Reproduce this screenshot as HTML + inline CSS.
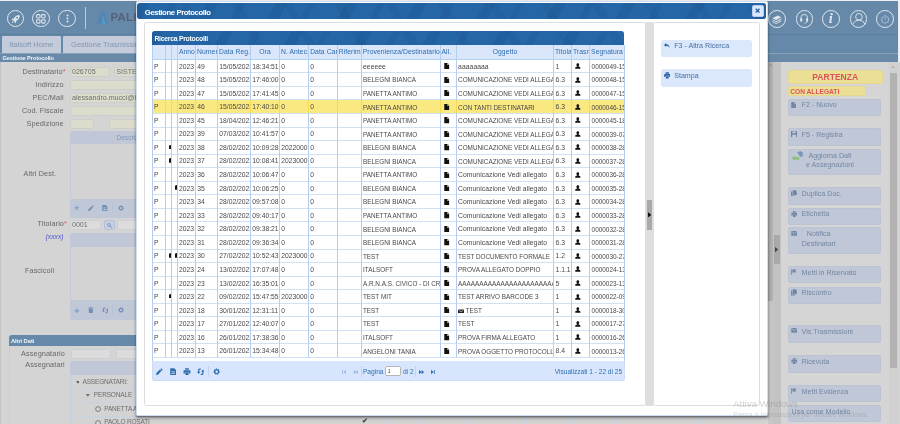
<!DOCTYPE html>
<html><head><meta charset="utf-8"><title>Gestione Protocollo</title>
<style>
html,body{margin:0;padding:0;background:#eceef0;overflow:hidden;}
body{width:900px;height:424px;position:relative;font-family:"Liberation Sans",sans-serif;}
#s{position:absolute;left:0;top:0;width:1920px;height:905px;zoom:0.46875;will-change:transform;font-family:"Liberation Sans",sans-serif;}
#s div{position:absolute;}
#s span{position:static;}
.circ{border:2px solid #dfe7ef;border-radius:50%;box-sizing:border-box;display:flex;align-items:center;justify-content:center;}
.circ svg{flex:none;}
</style></head><body>
<div id="s">
<div style="left:0.00px;top:2.56px;width:1915.52px;height:74.24px;background:#6789a9;"></div>
<div style="left:0.00px;top:72.96px;width:1915.52px;height:1.71px;background:#5d7f9f;"></div>
<div style="left:0.00px;top:74.67px;width:1915.52px;height:38.40px;background:#6789a9;"></div>
<div style="left:0.00px;top:113.07px;width:1915.52px;height:19.41px;background:#6989a8;"></div>
<div style="left:0.00px;top:113.07px;width:1915.52px;height:1.07px;background:#86a0ba;"></div>
<div class="circ" style="left:14.29px;top:20.69px;width:37.97px;height:37.97px;"><svg width="25" height="25" viewBox="0 0 20 20" ><path d="M15.500 3.500c-4 0-7 2.500-9 6l-2.500.5-1.500 2 2.800.3 2.500 2.500.3 2.800 2-1.500.5-2.500c3.500-2 6-5 6-9z" fill="#dde5ee"/><circle cx="12" cy="8" r="1.500" fill="#6789a9"/><path d="M4.500 13.500l2 2-3.500 1.500z" fill="#dde5ee"/></svg></div>
<div class="circ" style="left:68.48px;top:20.69px;width:37.97px;height:37.97px;"><svg width="25" height="25" viewBox="0 0 22 22" ><g fill="none" stroke="#dde5ee" stroke-width="2"><rect x="3" y="3" width="6.500" height="6.500" rx="1.800"/><rect x="12.500" y="3" width="6.500" height="6.500" rx="1.800"/><rect x="3" y="12.500" width="6.500" height="6.500" rx="1.800"/><rect x="12.500" y="12.500" width="6.500" height="6.500" rx="1.800"/></g></svg></div>
<div class="circ" style="left:124.59px;top:20.69px;width:37.97px;height:37.97px;"><svg width="6.5" height="19" viewBox="0 0 6 18" ><g fill="#dde5ee"><circle cx="3" cy="3" r="2.100"/><circle cx="3" cy="9" r="2.100"/><circle cx="3" cy="15" r="2.100"/></g></svg></div>
<div style="left:181.76px;top:14.93px;width:1.28px;height:46.93px;background:#b9cbdc;"></div>
<div style="left:207.57px;top:23.89px;"><svg width="24" height="28" viewBox="0 0 24 28" ><path d="M8.500 1h7l8 26h-6.500l-5-17.500-5 17.500h-6.500z" fill="#5384b8"/><path d="M12 6.500l6 20.500h-6.200z" fill="#3fa2d4"/></svg></div>
<div style="left:235.52px;top:23.25px;font:bold 24px 'Liberation Sans',sans-serif;color:#52627a;letter-spacing:.9px;white-space:nowrap;">PALITALSOFT</div>
<div class="circ" style="left:1638.83px;top:20.91px;width:37.97px;height:37.97px;"><svg width="24" height="22" viewBox="0 0 24 22" ><g fill="#dde5ee"><path d="M3 9l11-6 8 4-11 6z"/><path d="M3 11l8 4.500 11-6v2l-11 6-8-4.500z"/><path d="M3 15l8 4.500 11-6v2l-11 6-8-4.500z"/></g></svg></div>
<div class="circ" style="left:1697.07px;top:20.91px;width:37.97px;height:37.97px;"><svg width="22" height="24" viewBox="0 0 22 24" ><path d="M4 14v-4a7 7 0 0 1 14 0v4" fill="none" stroke="#dde5ee" stroke-width="2"/><rect x="2.500" y="11" width="4.500" height="7.500" rx="2" fill="#dde5ee"/><rect x="15" y="11" width="4.500" height="7.500" rx="2" fill="#dde5ee"/><path d="M17.500 18c0 3-3 3.500-6 3.500" fill="none" stroke="#dde5ee" stroke-width="1.600"/></svg></div>
<div class="circ" style="left:1754.24px;top:20.91px;width:37.97px;height:37.97px;"><span style="font:italic bold 31px 'Liberation Serif',serif;color:#dde5ee;line-height:1;position:relative;top:-1px;left:-1px;">i</span></div>
<div class="circ" style="left:1812.27px;top:20.91px;width:37.97px;height:37.97px;"><svg width="38" height="38" viewBox="0 0 38 38" ><circle cx="19" cy="14.500" r="7" fill="none" stroke="#dde5ee" stroke-width="2"/><path d="M6 31c2-6.500 7.500-9 13-9s11 2.500 13 9" fill="none" stroke="#dde5ee" stroke-width="2"/></svg></div>
<div class="circ" style="left:1869.23px;top:20.91px;width:37.97px;height:37.97px;"><svg width="22" height="22" viewBox="0 0 22 22" ><path d="M7 5.500a7.500 7.500 0 1 0 8 0" fill="none" stroke="#9fb8d0" stroke-width="2.200" stroke-linecap="round"/><path d="M11 2.500v8" stroke="#9fb8d0" stroke-width="2.200" stroke-linecap="round"/></svg></div>
<div style="left:3.20px;top:75.95px;width:126.93px;height:37.55px;background:#c4cbda;border-radius:3px 3px 0 0;color:#8297b3;font-size:16px;line-height:37.55px;text-align:center;">Italsoft Home</div>
<div style="left:133.97px;top:75.95px;width:250.03px;height:37.55px;background:#c4cbda;border-radius:3px 3px 0 0;color:#8297b3;font-size:16px;line-height:37.55px;padding-left:17.71px;box-sizing:border-box;">Gestione Trasmissioni</div>
<div style="left:5.12px;top:115.20px;font:bold 12px 'Liberation Sans',sans-serif;color:#f1f5f9;white-space:nowrap;line-height:18.77px;letter-spacing:-.2px;">Gestione Protocollo</div>
<div style="left:0.00px;top:132.48px;width:1920.00px;height:772.05px;background:#d4d4d4;"></div>
<div style="left:0.00px;top:132.48px;width:2.56px;height:772.05px;background:#c4c4c4;"></div>
<div style="left:-0.85px;top:141.87px;width:140.80px;text-align:right;color:#676767;font-size:15.5px;letter-spacing:.25px;line-height:21.33px;white-space:nowrap;">Destinatario<span style="color:#e0525a">*</span></div>
<div style="left:-5.12px;top:169.60px;width:140.80px;text-align:right;color:#676767;font-size:15.5px;letter-spacing:.25px;line-height:21.33px;white-space:nowrap;">Indirizzo</div>
<div style="left:-5.12px;top:197.55px;width:140.80px;text-align:right;color:#676767;font-size:15.5px;letter-spacing:.25px;line-height:21.33px;white-space:nowrap;">PEC/Mail</div>
<div style="left:-5.12px;top:225.28px;width:140.80px;text-align:right;color:#676767;font-size:15.5px;letter-spacing:.25px;line-height:21.33px;white-space:nowrap;">Cod. Fiscale</div>
<div style="left:-5.12px;top:253.01px;width:140.80px;text-align:right;color:#676767;font-size:15.5px;letter-spacing:.25px;line-height:21.33px;white-space:nowrap;">Spedizione</div>
<div style="left:-20.91px;top:359.47px;width:140.80px;text-align:right;color:#676767;font-size:15.5px;letter-spacing:.25px;line-height:21.33px;white-space:nowrap;">Altri Dest.</div>
<div style="left:2.13px;top:467.41px;width:140.80px;text-align:right;color:#676767;font-size:15.5px;letter-spacing:.25px;line-height:21.33px;white-space:nowrap;">Titolario<span style="color:#e0525a">*</span></div>
<div style="left:-5.12px;top:494.08px;width:140.80px;text-align:right;color:#676767;font-size:15.5px;letter-spacing:.25px;line-height:21.33px;white-space:nowrap;color:#5556c8;font-style:italic;font-size:14.5px;letter-spacing:0;">(xxxx)</div>
<div style="left:-25.17px;top:566.83px;width:140.80px;text-align:right;color:#676767;font-size:15.5px;letter-spacing:.25px;line-height:21.33px;white-space:nowrap;">Fascicoli</div>
<div style="left:-2.56px;top:743.47px;width:140.80px;text-align:right;color:#676767;font-size:15.5px;letter-spacing:.25px;line-height:21.33px;white-space:nowrap;">Assegnatario</div>
<div style="left:-2.56px;top:767.57px;width:140.80px;text-align:right;color:#676767;font-size:15.5px;letter-spacing:.25px;line-height:21.33px;white-space:nowrap;">Assegnatari</div>
<div style="left:149.33px;top:142.93px;width:84.48px;height:20.48px;background:#dcdccd;border:1px solid #cccfc9;border-radius:5px;box-sizing:border-box;color:#6e6e6e;font-size:15.2px;line-height:20.05px;padding-left:2px;white-space:nowrap;overflow:hidden;">026705</div>
<div style="left:243.84px;top:142.93px;width:182.83px;height:20.48px;background:#dcdccd;border:1px solid #cccfc9;border-radius:5px;box-sizing:border-box;color:#6e6e6e;font-size:15.2px;line-height:20.05px;padding-left:2px;white-space:nowrap;overflow:hidden;">SISTEMA</div>
<div style="left:149.33px;top:170.88px;width:490.67px;height:20.27px;background:#dcdccd;border:1px solid #cccfc9;border-radius:5px;box-sizing:border-box;color:#6e6e6e;font-size:15.2px;line-height:20.05px;padding-left:2px;white-space:nowrap;overflow:hidden;"></div>
<div style="left:149.33px;top:198.61px;width:490.67px;height:20.27px;background:#dcdccd;border:1px solid #cccfc9;border-radius:5px;box-sizing:border-box;color:#6e6e6e;font-size:15.2px;line-height:20.05px;padding-left:2px;white-space:nowrap;overflow:hidden;">alessandro.mucci@italsoft.eu</div>
<div style="left:149.33px;top:226.35px;width:490.67px;height:20.27px;background:#dcdccd;border:1px solid #cccfc9;border-radius:5px;box-sizing:border-box;color:#6e6e6e;font-size:15.2px;line-height:20.05px;padding-left:2px;white-space:nowrap;overflow:hidden;"></div>
<div style="left:149.33px;top:254.08px;width:51.84px;height:20.27px;background:#dcdccd;border:1px solid #cccfc9;border-radius:5px;box-sizing:border-box;color:#6e6e6e;font-size:15.2px;line-height:20.05px;padding-left:2px;white-space:nowrap;overflow:hidden;"></div>
<div style="left:232.32px;top:254.08px;width:407.68px;height:20.27px;background:#dcdccd;border:1px solid #cccfc9;border-radius:5px;box-sizing:border-box;color:#6e6e6e;font-size:15.2px;line-height:20.05px;padding-left:2px;white-space:nowrap;overflow:hidden;"></div>
<div style="left:149.33px;top:280.11px;width:490.67px;height:27.52px;background:#c0c7d6;border-radius:5px 0 0 0;color:#8399b8;font-size:14px;line-height:31.57px;padding-left:99.20px;box-sizing:border-box;">Descrizione</div>
<div style="left:149.33px;top:307.63px;width:490.67px;height:115.84px;background:#d2d3d2;border-left:1px solid #c3cbd8;box-sizing:border-box;"></div>
<div style="left:149.33px;top:423.47px;width:490.67px;height:42.03px;background:#c0c7d6;border-radius:0 0 0 5px;"></div>
<div style="left:158.91px;top:438.37px;line-height:0;"><svg width="12" height="12" viewBox="0 0 14 14" ><path d="M6 1h2v5h5v2h-5v5h-2v-5h-5v-2h5z" fill="#6f8db5"/></svg></div>
<div style="left:187.63px;top:437.87px;line-height:0;"><svg width="13" height="13" viewBox="0 0 14 14" ><path d="M10.500 0.500l3 3-1.800 1.800-3-3z M7.800 3.200l3 3-7 7-3.600.6.600-3.600z" fill="#6f8db5"/></svg></div>
<div style="left:217.79px;top:437.87px;line-height:0;"><svg width="12" height="13" viewBox="0 0 13 14" ><path d="M0.500 0h8l4 4v10h-12z" fill="#6f8db5"/><path d="M3 6h7v1.500h-7z M3 9h7v3h-7z" fill="#fff" opacity=".55"/></svg></div>
<div style="left:239.79px;top:434.13px;width:1.07px;height:20.27px;background:#b7c3d6;"></div>
<div style="left:251.42px;top:437.87px;line-height:0;"><svg width="13" height="13" viewBox="0 0 14 14" ><circle cx="7" cy="7" r="4.300" fill="none" stroke="#6f8db5" stroke-width="3.200" stroke-dasharray="2.250 1.130"/><circle cx="7" cy="7" r="3.700" fill="none" stroke="#6f8db5" stroke-width="2.200"/></svg></div>
<div style="left:149.33px;top:469.55px;width:66.77px;height:21.12px;background:#dcdcdc;border:1px solid #cbcfd5;border-radius:5px;box-sizing:border-box;color:#6e6e6e;font-size:15.2px;line-height:20.05px;padding-left:2px;white-space:nowrap;overflow:hidden;">0001</div>
<div style="left:222.72px;top:469.55px;width:22.19px;height:21.12px;background:#c6d0e2;border:1px solid #b4c0d4;border-radius:4px;box-sizing:border-box;"></div>
<div style="left:228.31px;top:474.71px;line-height:0;"><svg width="11" height="11" viewBox="0 0 13 13" ><circle cx="5" cy="5" r="3.700" fill="none" stroke="#6f8db5" stroke-width="1.800"/><path d="M7.800 7.800l4.200 4.200" stroke="#6f8db5" stroke-width="2.200" stroke-linecap="round"/></svg></div>
<div style="left:249.81px;top:469.55px;width:390.19px;height:21.12px;background:#dcdcdc;border:1px solid #cbcfd5;border-radius:5px;box-sizing:border-box;color:#6e6e6e;font-size:15.2px;line-height:20.05px;padding-left:2px;white-space:nowrap;overflow:hidden;"></div>
<div style="left:149.33px;top:497.92px;width:490.67px;height:28.80px;background:#c0c7d6;border-radius:5px 0 0 0;"></div>
<div style="left:192.21px;top:497.92px;width:1.07px;height:28.80px;background:#b9c4d8;"></div>
<div style="left:149.33px;top:526.72px;width:490.67px;height:113.07px;background:#d2d3d2;border-left:1px solid #c3cbd8;box-sizing:border-box;"></div>
<div style="left:149.33px;top:639.79px;width:490.67px;height:43.31px;background:#c0c7d6;border-radius:0 0 0 5px;"></div>
<div style="left:158.91px;top:656.40px;line-height:0;"><svg width="12" height="12" viewBox="0 0 14 14" ><path d="M6 1h2v5h5v2h-5v5h-2v-5h-5v-2h5z" fill="#6f8db5"/></svg></div>
<div style="left:188.13px;top:655.90px;line-height:0;"><svg width="12" height="13" viewBox="0 0 13 14" ><path d="M4.500 0h4v1.500h4v1.800h-12v-1.800h4z M1.500 4.300h10l-.8 9.700h-8.400z" fill="#6f8db5"/></svg></div>
<div style="left:216.54px;top:655.15px;line-height:0;"><svg width="14.5" height="14.5" viewBox="0 0 16 16" ><path d="M8 2.500h-2.500a2 2 0 0 0-2 2v4.500" fill="none" stroke="#6f8db5" stroke-width="2.600"/><path d="M0 8.200h7l-3.500 4.800z" fill="#6f8db5"/><path d="M8 13.500h2.500a2 2 0 0 0 2-2v-4.500" fill="none" stroke="#6f8db5" stroke-width="2.600"/><path d="M16 7.800h-7l3.500-4.800z" fill="#6f8db5"/></svg></div>
<div style="left:239.79px;top:651.73px;width:1.07px;height:20.27px;background:#b7c3d6;"></div>
<div style="left:251.42px;top:655.90px;line-height:0;"><svg width="13" height="13" viewBox="0 0 14 14" ><circle cx="7" cy="7" r="4.300" fill="none" stroke="#6f8db5" stroke-width="3.200" stroke-dasharray="2.250 1.130"/><circle cx="7" cy="7" r="3.700" fill="none" stroke="#6f8db5" stroke-width="2.200"/></svg></div>
<div style="left:19.20px;top:714.67px;width:1617.07px;height:23.25px;background:#6789a9;border-radius:6px 0 0 0;color:#f1f5f9;font:bold 12.5px 'Liberation Sans',sans-serif;line-height:26.45px;padding-left:4px;box-sizing:border-box;letter-spacing:-.2px;">Altri Dati</div>
<div style="left:19.20px;top:737.92px;width:1.07px;height:166.61px;background:#c3cfe0;"></div>
<div style="left:152.32px;top:743.89px;width:84.91px;height:21.12px;background:#dcdcdc;border:1px solid #cbcfd5;border-radius:5px;box-sizing:border-box;color:#6e6e6e;font-size:15.2px;line-height:20.05px;padding-left:2px;white-space:nowrap;overflow:hidden;"></div>
<div style="left:247.47px;top:743.89px;width:392.53px;height:21.12px;background:#dcdcdc;border:1px solid #cbcfd5;border-radius:5px;box-sizing:border-box;color:#6e6e6e;font-size:15.2px;line-height:20.05px;padding-left:2px;white-space:nowrap;overflow:hidden;"></div>
<div style="left:149.76px;top:770.13px;width:1486.51px;height:30.08px;background:#c0c7d6;border-radius:5px 0 0 0;"></div>
<div style="left:149.76px;top:800.21px;width:1486.51px;height:104.32px;background:#d2d3d2;"></div>
<div style="left:149.76px;top:800.21px;width:1.07px;height:104.32px;background:#c3cfe0;"></div>
<div style="left:149.76px;top:828.91px;width:1486.51px;height:1.07px;background:#c8d2e2;"></div>
<div style="left:149.76px;top:857.49px;width:1486.51px;height:1.07px;background:#c8d2e2;"></div>
<div style="left:149.76px;top:886.72px;width:1486.51px;height:1.07px;background:#c8d2e2;"></div>
<div style="left:161.07px;top:812.16px;line-height:0;"><svg width="8" height="6" viewBox="0 0 8 6" ><path d="M0 0h8l-4 6z" fill="#666"/></svg></div>
<div style="left:176.00px;top:803.63px;color:#6e6e6e;font-size:13.9px;letter-spacing:-.35px;white-space:nowrap;line-height:21.33px;">ASSEGNATARI:</div>
<div style="left:184.11px;top:839.89px;line-height:0;"><svg width="8" height="6" viewBox="0 0 8 6" ><path d="M0 0h8l-4 6z" fill="#666"/></svg></div>
<div style="left:200.11px;top:831.36px;color:#6e6e6e;font-size:13.9px;letter-spacing:-.35px;white-space:nowrap;line-height:21.33px;">PERSONALE</div>
<div style="left:203.73px;top:866.56px;line-height:0;"><svg width="13" height="13" viewBox="0 0 13 13" ><circle cx="6.500" cy="6.500" r="5.200" fill="none" stroke="#666" stroke-width="1.700"/></svg></div>
<div style="left:222.29px;top:861.44px;color:#6e6e6e;font-size:13.9px;letter-spacing:-.35px;white-space:nowrap;line-height:21.33px;">PANETTA ANTIMO</div>
<div style="left:203.73px;top:895.15px;line-height:0;"><svg width="13" height="13" viewBox="0 0 13 13" ><circle cx="6.500" cy="6.500" r="5.200" fill="none" stroke="#666" stroke-width="1.700"/></svg></div>
<div style="left:222.29px;top:889.81px;color:#6e6e6e;font-size:13.9px;letter-spacing:-.35px;white-space:nowrap;line-height:21.33px;">PAOLO ROSATI</div>
<div style="left:762.35px;top:800.21px;width:1.07px;height:104.32px;background:#c8d2e2;"></div>
<div style="left:828.69px;top:800.21px;width:1.07px;height:104.32px;background:#c8d2e2;"></div>
<div style="left:895.25px;top:800.21px;width:1.07px;height:104.32px;background:#c8d2e2;"></div>
<div style="left:994.45px;top:800.21px;width:1.07px;height:104.32px;background:#c8d2e2;"></div>
<div style="left:1121.60px;top:800.21px;width:1.07px;height:104.32px;background:#c8d2e2;"></div>
<div style="left:1220.16px;top:800.21px;width:1.07px;height:104.32px;background:#c8d2e2;"></div>
<div style="left:1315.09px;top:800.21px;width:1.07px;height:104.32px;background:#c8d2e2;"></div>
<div style="left:1397.87px;top:800.21px;width:1.07px;height:104.32px;background:#c8d2e2;"></div>
<div style="left:1492.80px;top:800.21px;width:1.07px;height:104.32px;background:#c8d2e2;"></div>
<div style="left:1588.80px;top:800.21px;width:1.07px;height:104.32px;background:#c8d2e2;"></div>
<div style="left:771.84px;top:890.88px;font-size:14px;font-weight:bold;color:#444;line-height:1;">&#10004;</div>
<div style="left:1638.40px;top:132.48px;width:9.81px;height:509.65px;background:linear-gradient(90deg,#a4a4a4,#b4b4b4);"></div>
<div style="left:1638.40px;top:642.13px;width:9.81px;height:262.40px;background:#c6c6c6;"></div>
<div style="left:1648.21px;top:132.48px;width:17.07px;height:772.05px;background:#c3c3c3;"></div>
<div style="left:1651.20px;top:501.76px;width:13.44px;height:62.51px;background:#a9a9a9;"></div>
<div style="left:1653.97px;top:526.29px;line-height:0;"><svg width="7" height="11" viewBox="0 0 5 8" ><path d="M0 0l5 4-5 4z" fill="#444"/></svg></div>
<div style="left:1665.28px;top:132.48px;width:232.53px;height:772.05px;background:#d5d5d5;"></div>
<div style="left:1897.17px;top:132.48px;width:17.71px;height:772.05px;background:#d0d0d0;"></div>
<div style="left:1898.45px;top:154.88px;width:15.36px;height:629.33px;background:#b2b2b2;"></div>
<div style="left:1901.65px;top:139.95px;line-height:0;"><svg width="9" height="6" viewBox="0 0 8 5" ><path d="M0 5l4-5 4 5z" fill="#a8a8a8"/></svg></div>
<div style="left:1640.53px;top:137.17px;line-height:0;"><svg width="6" height="4" viewBox="0 0 8 5" ><path d="M0 5l4-5 4 5z" fill="#8c8c8c"/></svg></div>
<div style="left:1680.64px;top:149.55px;width:202.24px;height:28.80px;background:#ebdf96;border:1px solid #e4d890;border-radius:5px;box-sizing:border-box;color:#d9555a;font:bold 18.2px 'Liberation Sans',sans-serif;line-height:28.16px;text-align:center;">PARTENZA</div>
<div style="left:1680.64px;top:183.89px;width:166.40px;height:20.91px;background:#ebdf96;border:1px solid #e4d890;border-radius:4px;box-sizing:border-box;color:#d9555a;font:bold 14.2px 'Liberation Sans',sans-serif;line-height:20.05px;padding-left:3px;">CON ALLEGATI</div>
<div style="left:1680.64px;top:211.41px;width:199.68px;height:35.20px;background:#c0c7d6;border:1px solid #bcc4d4;border-radius:4px;box-sizing:border-box;"></div>
<div style="left:1687.25px;top:217.17px;line-height:0;"><svg width="11" height="13" viewBox="0 0 11 13" ><path d="M0.5 0h6v4h4v9h-10z M7.3 0l3.2 3.2h-3.2z" fill="#7387a3"/></svg></div>
<div style="left:1710.08px;top:216.53px;color:#7387a3;font-size:15.2px;line-height:20.48px;white-space:nowrap;">F2 - Nuovo</div>
<div style="left:1680.64px;top:273.92px;width:199.68px;height:37.55px;background:#c0c7d6;border:1px solid #bcc4d4;border-radius:4px;box-sizing:border-box;"></div>
<div style="left:1687.25px;top:279.68px;line-height:0;"><svg width="13.5" height="13.5" viewBox="0 0 14 14" ><path d="M0 0h11.500l2.500 2.500v11.500h-14z" fill="#7387a3"/><path d="M3 1h7v4h-7z M3 8.500h8v4.500h-8z" fill="#fff" opacity=".6"/></svg></div>
<div style="left:1710.08px;top:279.04px;color:#7387a3;font-size:15.2px;line-height:20.48px;white-space:nowrap;">F5 - Registra</div>
<div style="left:1680.64px;top:317.87px;width:199.68px;height:56.32px;background:#c0c7d6;border:1px solid #bcc4d4;border-radius:4px;box-sizing:border-box;"></div>
<div style="left:1686.61px;top:321.28px;line-height:0;"><svg width="29" height="27" viewBox="0 0 26 24" ><path d="M12 3l6-3 6 4-2 1 1 6-4-1-1 2z" fill="#7d95b8"/><path d="M1 13l6-4v2.500h9v5h-9v2.500z" fill="#8fbf83"/></svg></div>
<div style="left:1706.67px;top:323.20px;color:#7387a3;font-size:15.2px;line-height:20.48px;white-space:nowrap;text-align:center;width:128.00px;">Aggiorna Dati<br>e Assegnazioni</div>
<div style="left:1680.64px;top:399.15px;width:199.68px;height:37.76px;background:#c0c7d6;border:1px solid #bcc4d4;border-radius:4px;box-sizing:border-box;"></div>
<div style="left:1687.25px;top:404.91px;line-height:0;"><svg width="12.5" height="14" viewBox="0 0 13 14" ><path d="M4 0h6l3 3v8h-9z M0 3h3v9h7v2h-10z" fill="#7387a3"/></svg></div>
<div style="left:1710.08px;top:404.27px;color:#7387a3;font-size:15.2px;line-height:20.48px;white-space:nowrap;">Duplica Doc.</div>
<div style="left:1680.64px;top:443.52px;width:199.68px;height:36.05px;background:#c0c7d6;border:1px solid #bcc4d4;border-radius:4px;box-sizing:border-box;"></div>
<div style="left:1687.25px;top:449.28px;line-height:0;"><svg width="14" height="13" viewBox="0 0 14 14" ><path d="M3.500 0.300h7v3.200h-7z M0.400 4.300h13.200v6.400h-2.600v-2.700h-8v2.700h-2.600z M3.900 8.900h6.200v4.800h-6.200z" fill="#7387a3"/></svg></div>
<div style="left:1710.08px;top:448.64px;color:#7387a3;font-size:15.2px;line-height:20.48px;white-space:nowrap;">Etichetta</div>
<div style="left:1680.64px;top:485.33px;width:199.68px;height:56.32px;background:#c0c7d6;border:1px solid #bcc4d4;border-radius:4px;box-sizing:border-box;"></div>
<div style="left:1687.25px;top:492.59px;line-height:0;"><svg width="14" height="10" viewBox="0 0 14 11" ><path d="M0 0h14v11h-14z" fill="#7387a3"/><path d="M1 1.200l6 5 6-5" fill="none" stroke="#fff" stroke-opacity=".7" stroke-width="1.300"/></svg></div>
<div style="left:1710.29px;top:490.67px;color:#7387a3;font-size:15.2px;line-height:20.48px;white-space:nowrap;text-align:center;">Notifica<br>Destinatari</div>
<div style="left:1680.64px;top:568.32px;width:199.68px;height:36.27px;background:#c0c7d6;border:1px solid #bcc4d4;border-radius:4px;box-sizing:border-box;"></div>
<div style="left:1687.25px;top:574.08px;line-height:0;"><svg width="12" height="13.5" viewBox="0 0 13 14" ><path d="M0.500 0h2v14h-2z M3.200 1h9.300l-2.500 3.500 2.500 3.500h-9.300z" fill="#7387a3"/></svg></div>
<div style="left:1710.08px;top:573.44px;color:#7387a3;font-size:15.2px;line-height:20.48px;white-space:nowrap;">Metti in Riservato</div>
<div style="left:1680.64px;top:611.20px;width:199.68px;height:36.69px;background:#c0c7d6;border:1px solid #bcc4d4;border-radius:4px;box-sizing:border-box;"></div>
<div style="left:1687.25px;top:616.96px;line-height:0;"><svg width="12.5" height="14" viewBox="0 0 13 14" ><path d="M4 0h6l3 3v8h-9z M0 3h3v9h7v2h-10z" fill="#7387a3"/></svg></div>
<div style="left:1710.08px;top:616.32px;color:#7387a3;font-size:15.2px;line-height:20.48px;white-space:nowrap;">Riscontro</div>
<div style="left:1680.64px;top:693.76px;width:199.68px;height:38.61px;background:#c0c7d6;border:1px solid #bcc4d4;border-radius:4px;box-sizing:border-box;"></div>
<div style="left:1687.25px;top:699.52px;line-height:0;"><svg width="14" height="10" viewBox="0 0 14 11" ><path d="M0 0h14v11h-14z" fill="#7387a3"/><path d="M1 1.200l6 5 6-5" fill="none" stroke="#fff" stroke-opacity=".7" stroke-width="1.300"/></svg></div>
<div style="left:1710.08px;top:698.88px;color:#7387a3;font-size:15.2px;line-height:20.48px;white-space:nowrap;">Vis.Trasmissioni</div>
<div style="left:1680.64px;top:757.97px;width:199.68px;height:37.33px;background:#c0c7d6;border:1px solid #bcc4d4;border-radius:4px;box-sizing:border-box;"></div>
<div style="left:1687.25px;top:763.73px;line-height:0;"><svg width="14" height="13" viewBox="0 0 14 14" ><path d="M3.500 0.300h7v3.200h-7z M0.400 4.300h13.200v6.400h-2.600v-2.700h-8v2.700h-2.600z M3.900 8.900h6.200v4.800h-6.200z" fill="#7387a3"/></svg></div>
<div style="left:1710.08px;top:763.09px;color:#7387a3;font-size:15.2px;line-height:20.48px;white-space:nowrap;">Ricevuta</div>
<div style="left:1680.64px;top:821.97px;width:199.68px;height:36.69px;background:#c0c7d6;border:1px solid #bcc4d4;border-radius:4px;box-sizing:border-box;"></div>
<div style="left:1687.25px;top:827.73px;line-height:0;"><svg width="12" height="13.5" viewBox="0 0 13 14" ><path d="M0.500 0h2v14h-2z M3.200 1h9.300l-2.500 3.500 2.500 3.500h-9.300z" fill="#7387a3"/></svg></div>
<div style="left:1710.08px;top:827.09px;color:#7387a3;font-size:15.2px;line-height:20.48px;white-space:nowrap;">Metti Evidenza</div>
<div style="left:1680.64px;top:864.64px;width:199.68px;height:36.69px;background:#c0c7d6;border:1px solid #bcc4d4;border-radius:4px;box-sizing:border-box;"></div>
<div style="left:1688.75px;top:869.76px;color:#7387a3;font-size:15.2px;line-height:20.48px;white-space:nowrap;">Usa come Modello</div>
<div style="left:289.07px;top:2.56px;width:1348.91px;height:885.55px;background:#fff;border:1px solid #cddcf0;box-sizing:border-box;border-radius:3px;box-shadow:0 4px 7px -1px rgba(0,0,0,.4), -1px 2px 3px -1px rgba(0,0,0,.25);"></div>
<div style="left:292.91px;top:6.40px;width:1341.44px;height:33.92px;background-color:#2466a6;background-image:repeating-linear-gradient(118deg,rgba(10,40,90,.10) 0 22px,rgba(255,255,255,0) 22px 61px,rgba(10,40,90,.07) 61px 75px,rgba(255,255,255,0) 75px 131px),repeating-linear-gradient(62deg,rgba(10,40,90,.06) 0 17px,rgba(255,255,255,0) 17px 97px);border-radius:6px;color:#fff;font:bold 16.6px 'Liberation Sans',sans-serif;line-height:40.96px;padding-left:16.00px;box-sizing:border-box;letter-spacing:-.9px;">Gestione Protocollo</div>
<div style="left:1603.20px;top:11.09px;width:26.24px;height:25.17px;background:#dbe7fb;border:1px solid #b8cdf0;border-radius:4px;box-sizing:border-box;"></div>
<div style="left:1610.45px;top:17.92px;line-height:0;"><svg width="11" height="11" viewBox="0 0 11 11" ><path d="M1.500 1.500l8 8M9.500 1.500l-8 8" stroke="#1f5fa0" stroke-width="2.600"/></svg></div>
<div style="left:308.05px;top:47.79px;width:1070.29px;height:819.20px;border:1px solid #dcdcdc;border-radius:5px;box-sizing:border-box;background:#fff;"></div>
<div style="left:1378.35px;top:47.79px;width:14.93px;height:818.99px;background:#dedede;"></div>
<div style="left:1380.69px;top:425.81px;width:10.24px;height:64.21px;background:#a9a9a9;"></div>
<div style="left:1381.76px;top:451.20px;line-height:0;"><svg width="7.5" height="12" viewBox="0 0 6 9" ><path d="M0 0l6 4.500-6 4.500z" fill="#111"/></svg></div>
<div style="left:1394.13px;top:47.79px;width:226.77px;height:819.20px;border:1px solid #dcdcdc;border-radius:5px;box-sizing:border-box;background:#fff;"></div>
<div style="left:1409.49px;top:85.55px;width:195.20px;height:36.69px;background:#dbe7fb;border-radius:6px;"></div>
<div style="left:1417.17px;top:92.59px;line-height:0;"><svg width="12" height="11" viewBox="0 0 13 12" ><path d="M5 0v3c5 0 8 3 7.500 9-1-4-3.500-5.500-7.500-5.500v3l-5-4.800z" fill="#2b62a3"/></svg></div>
<div style="left:1438.29px;top:90.24px;color:#4670a6;font-size:15.2px;line-height:20.48px;white-space:nowrap;">F3 - Altra Ricerca</div>
<div style="left:1409.49px;top:147.41px;width:195.20px;height:38.83px;background:#dbe7fb;border-radius:6px;"></div>
<div style="left:1415.89px;top:154.45px;line-height:0;"><svg width="14" height="14" viewBox="0 0 14 14" ><path d="M3.500 0.300h7v3.200h-7z M0.400 4.300h13.200v6.400h-2.600v-2.700h-8v2.700h-2.600z M3.900 8.900h6.200v4.800h-6.200z" fill="#2b62a3"/></svg></div>
<div style="left:1438.29px;top:153.17px;color:#4670a6;font-size:15.2px;line-height:20.48px;white-space:nowrap;">Stampa</div>
<div style="left:324.69px;top:65.71px;width:1007.15px;height:30.93px;background-color:#2466a6;background-image:repeating-linear-gradient(118deg,rgba(10,40,90,.10) 0 22px,rgba(255,255,255,0) 22px 61px,rgba(10,40,90,.07) 61px 75px,rgba(255,255,255,0) 75px 131px),repeating-linear-gradient(62deg,rgba(10,40,90,.06) 0 17px,rgba(255,255,255,0) 17px 97px);border-radius:6px 6px 0 0;color:#fff;font:bold 14.6px 'Liberation Sans',sans-serif;line-height:34.13px;padding-left:4.69px;box-sizing:border-box;letter-spacing:-.55px;">Ricerca Protocolli</div>
<div style="left:324.69px;top:96.43px;width:1007.15px;height:29.76px;background:#d9e6fb;"></div>
<div style="left:324.69px;top:96.43px;width:27.09px;height:29.76px;overflow:hidden;white-space:nowrap;color:#2f6eaf;font-size:14.4px;letter-spacing:.15px;line-height:28.59px;text-align:left;padding-left:3.20px;padding-top:0.2px;box-sizing:border-box;"></div>
<div style="left:351.79px;top:96.43px;width:13.65px;height:29.76px;overflow:hidden;white-space:nowrap;color:#2f6eaf;font-size:14.4px;letter-spacing:.15px;line-height:28.59px;text-align:left;padding-left:3.20px;padding-top:0.2px;box-sizing:border-box;"></div>
<div style="left:365.44px;top:96.43px;width:13.01px;height:29.76px;overflow:hidden;white-space:nowrap;color:#2f6eaf;font-size:14.4px;letter-spacing:.15px;line-height:28.59px;text-align:left;padding-left:3.20px;padding-top:0.2px;box-sizing:border-box;"></div>
<div style="left:378.45px;top:96.43px;width:38.83px;height:29.76px;overflow:hidden;white-space:nowrap;color:#2f6eaf;font-size:14.4px;letter-spacing:.15px;line-height:28.59px;text-align:left;padding-left:3.20px;padding-top:0.2px;box-sizing:border-box;">Anno</div>
<div style="left:417.28px;top:96.43px;width:46.93px;height:29.76px;overflow:hidden;white-space:nowrap;color:#2f6eaf;font-size:14.4px;letter-spacing:.15px;line-height:28.59px;text-align:left;padding-left:3.20px;padding-top:0.2px;box-sizing:border-box;">Numero</div>
<div style="left:464.21px;top:96.43px;width:70.40px;height:29.76px;overflow:hidden;white-space:nowrap;color:#2f6eaf;font-size:14.4px;letter-spacing:.15px;line-height:28.59px;text-align:left;padding-left:3.20px;padding-top:0.2px;box-sizing:border-box;">Data Reg.</div>
<div style="left:534.61px;top:96.43px;width:61.65px;height:29.76px;overflow:hidden;white-space:nowrap;color:#2f6eaf;font-size:14.4px;letter-spacing:.15px;line-height:28.59px;text-align:center;padding-left:0;padding-top:0.2px;box-sizing:border-box;">Ora</div>
<div style="left:596.27px;top:96.43px;width:62.19px;height:29.76px;overflow:hidden;white-space:nowrap;color:#2f6eaf;font-size:14.4px;letter-spacing:.15px;line-height:28.59px;text-align:left;padding-left:3.20px;padding-top:0.2px;box-sizing:border-box;">N. Antec.</div>
<div style="left:658.45px;top:96.43px;width:61.12px;height:29.76px;overflow:hidden;white-space:nowrap;color:#2f6eaf;font-size:14.4px;letter-spacing:.15px;line-height:28.59px;text-align:left;padding-left:3.20px;padding-top:0.2px;box-sizing:border-box;">Data Car.</div>
<div style="left:719.57px;top:96.43px;width:51.20px;height:29.76px;overflow:hidden;white-space:nowrap;color:#2f6eaf;font-size:14.4px;letter-spacing:.15px;line-height:28.59px;text-align:left;padding-left:3.20px;padding-top:0.2px;box-sizing:border-box;">Riferim.</div>
<div style="left:770.77px;top:96.43px;width:167.89px;height:29.76px;overflow:hidden;white-space:nowrap;color:#2f6eaf;font-size:14.4px;letter-spacing:.15px;line-height:28.59px;text-align:left;padding-left:3.20px;padding-top:0.2px;box-sizing:border-box;">Provenienza/Destinatario</div>
<div style="left:938.67px;top:96.43px;width:34.99px;height:29.76px;overflow:hidden;white-space:nowrap;color:#2f6eaf;font-size:14.4px;letter-spacing:.15px;line-height:28.59px;text-align:left;padding-left:3.20px;padding-top:0.2px;box-sizing:border-box;">All.</div>
<div style="left:973.65px;top:96.43px;width:207.36px;height:29.76px;overflow:hidden;white-space:nowrap;color:#2f6eaf;font-size:14.4px;letter-spacing:.15px;line-height:28.59px;text-align:center;padding-left:0;padding-top:0.2px;box-sizing:border-box;">Oggetto</div>
<div style="left:1181.01px;top:96.43px;width:37.97px;height:29.76px;overflow:hidden;white-space:nowrap;color:#2f6eaf;font-size:14.4px;letter-spacing:.15px;line-height:28.59px;text-align:left;padding-left:3.20px;padding-top:0.2px;box-sizing:border-box;">Titola</div>
<div style="left:1218.99px;top:96.43px;width:38.83px;height:29.76px;overflow:hidden;white-space:nowrap;color:#2f6eaf;font-size:14.4px;letter-spacing:.15px;line-height:28.59px;text-align:left;padding-left:3.20px;padding-top:0.2px;box-sizing:border-box;">Trasm</div>
<div style="left:1257.81px;top:96.43px;width:74.03px;height:29.76px;overflow:hidden;white-space:nowrap;color:#2f6eaf;font-size:14.4px;letter-spacing:.15px;line-height:28.59px;text-align:left;padding-left:3.20px;padding-top:0.2px;box-sizing:border-box;">Segnatura</div>
<div style="left:324.69px;top:125.76px;width:27.09px;height:28.93px;overflow:hidden;white-space:nowrap;color:#484848;font-size:14.4px;letter-spacing:0.00px;line-height:28.93px;padding-left:4.05px;padding-top:1.3px;box-sizing:border-box;">P</div>
<div style="left:378.45px;top:125.76px;width:38.83px;height:28.93px;overflow:hidden;white-space:nowrap;color:#484848;font-size:14.4px;letter-spacing:0.00px;line-height:28.93px;padding-left:3.63px;padding-top:1.3px;box-sizing:border-box;">2023</div>
<div style="left:417.28px;top:125.76px;width:46.93px;height:28.93px;overflow:hidden;white-space:nowrap;color:#484848;font-size:14.4px;letter-spacing:0.00px;line-height:28.93px;padding-left:3.63px;padding-top:1.3px;box-sizing:border-box;">49</div>
<div style="left:464.21px;top:125.76px;width:70.40px;height:28.93px;overflow:hidden;white-space:nowrap;color:#484848;font-size:14.4px;letter-spacing:0.00px;line-height:28.93px;padding-left:3.63px;padding-top:1.3px;box-sizing:border-box;">15/05/2023</div>
<div style="left:534.61px;top:125.76px;width:61.65px;height:28.93px;overflow:hidden;white-space:nowrap;color:#484848;font-size:14.4px;letter-spacing:0.00px;line-height:28.93px;padding-left:3.63px;padding-top:1.3px;box-sizing:border-box;">18:34:51</div>
<div style="left:596.27px;top:125.76px;width:62.19px;height:28.93px;overflow:hidden;white-space:nowrap;color:#484848;font-size:14.4px;letter-spacing:0.00px;line-height:28.93px;padding-left:3.63px;padding-top:1.3px;box-sizing:border-box;">0</div>
<div style="left:658.45px;top:125.76px;width:61.12px;height:28.93px;overflow:hidden;white-space:nowrap;color:#484848;font-size:14.4px;letter-spacing:0.00px;line-height:28.93px;padding-left:3.63px;padding-top:1.3px;box-sizing:border-box;">0</div>
<div style="left:770.77px;top:125.76px;width:167.89px;height:28.93px;overflow:hidden;white-space:nowrap;color:#484848;font-size:14.4px;letter-spacing:0.15px;line-height:28.93px;padding-left:3.63px;padding-top:1.3px;box-sizing:border-box;">eeeeee</div>
<div style="left:947.84px;top:134.51px;line-height:0;"><svg width="11.5" height="13.5" viewBox="0 0 11 13" ><path d="M0.5 0h6v4h4v9h-10z M7.3 0l3.2 3.2h-3.2z" fill="#111"/></svg></div>
<div style="left:973.65px;top:125.76px;width:207.36px;height:28.93px;overflow:hidden;white-space:nowrap;color:#484848;font-size:14.4px;letter-spacing:0.15px;line-height:28.93px;padding-left:3.63px;padding-top:1.3px;box-sizing:border-box;">aaaaaaaa</div>
<div style="left:1181.01px;top:125.76px;width:37.97px;height:28.93px;overflow:hidden;white-space:nowrap;color:#484848;font-size:14.4px;letter-spacing:0.00px;line-height:28.93px;padding-left:4.27px;padding-top:1.3px;box-sizing:border-box;">1</div>
<div style="left:1226.45px;top:134.51px;line-height:0;"><svg width="12" height="13" viewBox="0 0 12 13" ><path d="M6 0.5c1.8 0 2.9 1.3 2.9 3 0 1.4-.6 2.6-1.5 3.2v1c2.300.5 3.800 1.300 4.100 2.500v1.800h-11v-1.800c.3-1.200 1.800-2 4.100-2.500v-1c-.9-.6-1.500-1.800-1.500-3.200 0-1.700 1.100-3 2.900-3z" fill="#111"/></svg></div>
<div style="left:1257.81px;top:125.76px;width:74.03px;height:28.93px;overflow:hidden;white-space:nowrap;color:#484848;font-size:13.7px;letter-spacing:0.00px;line-height:28.93px;padding-left:4.27px;padding-top:1.9px;box-sizing:border-box;">0000049-15/05</div>
<div style="left:324.69px;top:154.69px;width:27.09px;height:28.93px;overflow:hidden;white-space:nowrap;color:#484848;font-size:14.4px;letter-spacing:0.00px;line-height:28.93px;padding-left:4.05px;padding-top:1.3px;box-sizing:border-box;">P</div>
<div style="left:378.45px;top:154.69px;width:38.83px;height:28.93px;overflow:hidden;white-space:nowrap;color:#484848;font-size:14.4px;letter-spacing:0.00px;line-height:28.93px;padding-left:3.63px;padding-top:1.3px;box-sizing:border-box;">2023</div>
<div style="left:417.28px;top:154.69px;width:46.93px;height:28.93px;overflow:hidden;white-space:nowrap;color:#484848;font-size:14.4px;letter-spacing:0.00px;line-height:28.93px;padding-left:3.63px;padding-top:1.3px;box-sizing:border-box;">48</div>
<div style="left:464.21px;top:154.69px;width:70.40px;height:28.93px;overflow:hidden;white-space:nowrap;color:#484848;font-size:14.4px;letter-spacing:0.00px;line-height:28.93px;padding-left:3.63px;padding-top:1.3px;box-sizing:border-box;">15/05/2023</div>
<div style="left:534.61px;top:154.69px;width:61.65px;height:28.93px;overflow:hidden;white-space:nowrap;color:#484848;font-size:14.4px;letter-spacing:0.00px;line-height:28.93px;padding-left:3.63px;padding-top:1.3px;box-sizing:border-box;">17:46:00</div>
<div style="left:596.27px;top:154.69px;width:62.19px;height:28.93px;overflow:hidden;white-space:nowrap;color:#484848;font-size:14.4px;letter-spacing:0.00px;line-height:28.93px;padding-left:3.63px;padding-top:1.3px;box-sizing:border-box;">0</div>
<div style="left:658.45px;top:154.69px;width:61.12px;height:28.93px;overflow:hidden;white-space:nowrap;color:#484848;font-size:14.4px;letter-spacing:0.00px;line-height:28.93px;padding-left:3.63px;padding-top:1.3px;box-sizing:border-box;">0</div>
<div style="left:770.77px;top:154.69px;width:167.89px;height:28.93px;overflow:hidden;white-space:nowrap;color:#484848;font-size:13.6px;letter-spacing:0.00px;line-height:28.93px;padding-left:3.63px;padding-top:1.9px;box-sizing:border-box;">BELEGNI BIANCA</div>
<div style="left:947.84px;top:163.43px;line-height:0;"><svg width="11.5" height="13.5" viewBox="0 0 11 13" ><path d="M0.5 0h6v4h4v9h-10z M7.3 0l3.2 3.2h-3.2z" fill="#111"/></svg></div>
<div style="left:973.65px;top:154.69px;width:207.36px;height:28.93px;overflow:hidden;white-space:nowrap;color:#484848;font-size:13.6px;letter-spacing:0.00px;line-height:28.93px;padding-left:3.63px;padding-top:1.9px;box-sizing:border-box;">COMUNICAZIONE VEDI ALLEGATO</div>
<div style="left:1181.01px;top:154.69px;width:37.97px;height:28.93px;overflow:hidden;white-space:nowrap;color:#484848;font-size:14.4px;letter-spacing:0.00px;line-height:28.93px;padding-left:4.27px;padding-top:1.3px;box-sizing:border-box;">6.3</div>
<div style="left:1226.45px;top:163.43px;line-height:0;"><svg width="12" height="13" viewBox="0 0 12 13" ><path d="M6 0.5c1.8 0 2.9 1.3 2.9 3 0 1.4-.6 2.6-1.5 3.2v1c2.300.5 3.800 1.300 4.100 2.500v1.800h-11v-1.800c.3-1.200 1.800-2 4.100-2.500v-1c-.9-.6-1.500-1.800-1.500-3.200 0-1.700 1.100-3 2.900-3z" fill="#111"/></svg></div>
<div style="left:1257.81px;top:154.69px;width:74.03px;height:28.93px;overflow:hidden;white-space:nowrap;color:#484848;font-size:13.7px;letter-spacing:0.00px;line-height:28.93px;padding-left:4.27px;padding-top:1.9px;box-sizing:border-box;">0000048-15/05</div>
<div style="left:324.69px;top:183.62px;width:27.09px;height:28.93px;overflow:hidden;white-space:nowrap;color:#484848;font-size:14.4px;letter-spacing:0.00px;line-height:28.93px;padding-left:4.05px;padding-top:1.3px;box-sizing:border-box;">P</div>
<div style="left:378.45px;top:183.62px;width:38.83px;height:28.93px;overflow:hidden;white-space:nowrap;color:#484848;font-size:14.4px;letter-spacing:0.00px;line-height:28.93px;padding-left:3.63px;padding-top:1.3px;box-sizing:border-box;">2023</div>
<div style="left:417.28px;top:183.62px;width:46.93px;height:28.93px;overflow:hidden;white-space:nowrap;color:#484848;font-size:14.4px;letter-spacing:0.00px;line-height:28.93px;padding-left:3.63px;padding-top:1.3px;box-sizing:border-box;">47</div>
<div style="left:464.21px;top:183.62px;width:70.40px;height:28.93px;overflow:hidden;white-space:nowrap;color:#484848;font-size:14.4px;letter-spacing:0.00px;line-height:28.93px;padding-left:3.63px;padding-top:1.3px;box-sizing:border-box;">15/05/2023</div>
<div style="left:534.61px;top:183.62px;width:61.65px;height:28.93px;overflow:hidden;white-space:nowrap;color:#484848;font-size:14.4px;letter-spacing:0.00px;line-height:28.93px;padding-left:3.63px;padding-top:1.3px;box-sizing:border-box;">17:41:45</div>
<div style="left:596.27px;top:183.62px;width:62.19px;height:28.93px;overflow:hidden;white-space:nowrap;color:#484848;font-size:14.4px;letter-spacing:0.00px;line-height:28.93px;padding-left:3.63px;padding-top:1.3px;box-sizing:border-box;">0</div>
<div style="left:658.45px;top:183.62px;width:61.12px;height:28.93px;overflow:hidden;white-space:nowrap;color:#484848;font-size:14.4px;letter-spacing:0.00px;line-height:28.93px;padding-left:3.63px;padding-top:1.3px;box-sizing:border-box;">0</div>
<div style="left:770.77px;top:183.62px;width:167.89px;height:28.93px;overflow:hidden;white-space:nowrap;color:#484848;font-size:13.6px;letter-spacing:0.00px;line-height:28.93px;padding-left:3.63px;padding-top:1.9px;box-sizing:border-box;">PANETTA ANTIMO</div>
<div style="left:947.84px;top:192.36px;line-height:0;"><svg width="11.5" height="13.5" viewBox="0 0 11 13" ><path d="M0.5 0h6v4h4v9h-10z M7.3 0l3.2 3.2h-3.2z" fill="#111"/></svg></div>
<div style="left:973.65px;top:183.62px;width:207.36px;height:28.93px;overflow:hidden;white-space:nowrap;color:#484848;font-size:13.6px;letter-spacing:0.00px;line-height:28.93px;padding-left:3.63px;padding-top:1.9px;box-sizing:border-box;">COMUNICAZIONE VEDI ALLEGATO</div>
<div style="left:1181.01px;top:183.62px;width:37.97px;height:28.93px;overflow:hidden;white-space:nowrap;color:#484848;font-size:14.4px;letter-spacing:0.00px;line-height:28.93px;padding-left:4.27px;padding-top:1.3px;box-sizing:border-box;">6.3</div>
<div style="left:1226.45px;top:192.36px;line-height:0;"><svg width="12" height="13" viewBox="0 0 12 13" ><path d="M6 0.5c1.8 0 2.9 1.3 2.9 3 0 1.4-.6 2.6-1.5 3.2v1c2.300.5 3.800 1.300 4.100 2.500v1.800h-11v-1.800c.3-1.200 1.800-2 4.100-2.500v-1c-.9-.6-1.500-1.800-1.500-3.200 0-1.700 1.100-3 2.900-3z" fill="#111"/></svg></div>
<div style="left:1257.81px;top:183.62px;width:74.03px;height:28.93px;overflow:hidden;white-space:nowrap;color:#484848;font-size:13.7px;letter-spacing:0.00px;line-height:28.93px;padding-left:4.27px;padding-top:1.9px;box-sizing:border-box;">0000047-15/05</div>
<div style="left:324.69px;top:212.54px;width:1007.15px;height:28.93px;background:#fae880;"></div>
<div style="left:324.69px;top:212.54px;width:27.09px;height:28.93px;overflow:hidden;white-space:nowrap;color:#484848;font-size:14.4px;letter-spacing:0.00px;line-height:28.93px;padding-left:4.05px;padding-top:1.3px;box-sizing:border-box;">P</div>
<div style="left:378.45px;top:212.54px;width:38.83px;height:28.93px;overflow:hidden;white-space:nowrap;color:#484848;font-size:14.4px;letter-spacing:0.00px;line-height:28.93px;padding-left:3.63px;padding-top:1.3px;box-sizing:border-box;">2023</div>
<div style="left:417.28px;top:212.54px;width:46.93px;height:28.93px;overflow:hidden;white-space:nowrap;color:#484848;font-size:14.4px;letter-spacing:0.00px;line-height:28.93px;padding-left:3.63px;padding-top:1.3px;box-sizing:border-box;">46</div>
<div style="left:464.21px;top:212.54px;width:70.40px;height:28.93px;overflow:hidden;white-space:nowrap;color:#484848;font-size:14.4px;letter-spacing:0.00px;line-height:28.93px;padding-left:3.63px;padding-top:1.3px;box-sizing:border-box;">15/05/2023</div>
<div style="left:534.61px;top:212.54px;width:61.65px;height:28.93px;overflow:hidden;white-space:nowrap;color:#484848;font-size:14.4px;letter-spacing:0.00px;line-height:28.93px;padding-left:3.63px;padding-top:1.3px;box-sizing:border-box;">17:40:10</div>
<div style="left:596.27px;top:212.54px;width:62.19px;height:28.93px;overflow:hidden;white-space:nowrap;color:#484848;font-size:14.4px;letter-spacing:0.00px;line-height:28.93px;padding-left:3.63px;padding-top:1.3px;box-sizing:border-box;">0</div>
<div style="left:658.45px;top:212.54px;width:61.12px;height:28.93px;overflow:hidden;white-space:nowrap;color:#484848;font-size:14.4px;letter-spacing:0.00px;line-height:28.93px;padding-left:3.63px;padding-top:1.3px;box-sizing:border-box;">0</div>
<div style="left:770.77px;top:212.54px;width:167.89px;height:28.93px;overflow:hidden;white-space:nowrap;color:#484848;font-size:13.6px;letter-spacing:0.00px;line-height:28.93px;padding-left:3.63px;padding-top:1.9px;box-sizing:border-box;">PANETTA ANTIMO</div>
<div style="left:947.84px;top:221.29px;line-height:0;"><svg width="11.5" height="13.5" viewBox="0 0 11 13" ><path d="M0.5 0h6v4h4v9h-10z M7.3 0l3.2 3.2h-3.2z" fill="#111"/></svg></div>
<div style="left:973.65px;top:212.54px;width:207.36px;height:28.93px;overflow:hidden;white-space:nowrap;color:#484848;font-size:13.6px;letter-spacing:0.00px;line-height:28.93px;padding-left:3.63px;padding-top:1.9px;box-sizing:border-box;">CON TANTI DESTINATARI</div>
<div style="left:1181.01px;top:212.54px;width:37.97px;height:28.93px;overflow:hidden;white-space:nowrap;color:#484848;font-size:14.4px;letter-spacing:0.00px;line-height:28.93px;padding-left:4.27px;padding-top:1.3px;box-sizing:border-box;">6.3</div>
<div style="left:1226.45px;top:221.29px;line-height:0;"><svg width="12" height="13" viewBox="0 0 12 13" ><path d="M6 0.5c1.8 0 2.9 1.3 2.9 3 0 1.4-.6 2.6-1.5 3.2v1c2.300.5 3.800 1.300 4.100 2.500v1.800h-11v-1.800c.3-1.200 1.800-2 4.100-2.500v-1c-.9-.6-1.500-1.800-1.500-3.200 0-1.700 1.100-3 2.900-3z" fill="#111"/></svg></div>
<div style="left:1257.81px;top:212.54px;width:74.03px;height:28.93px;overflow:hidden;white-space:nowrap;color:#484848;font-size:13.7px;letter-spacing:0.00px;line-height:28.93px;padding-left:4.27px;padding-top:1.9px;box-sizing:border-box;">0000046-15/05</div>
<div style="left:324.69px;top:241.47px;width:27.09px;height:28.93px;overflow:hidden;white-space:nowrap;color:#484848;font-size:14.4px;letter-spacing:0.00px;line-height:28.93px;padding-left:4.05px;padding-top:1.3px;box-sizing:border-box;">P</div>
<div style="left:378.45px;top:241.47px;width:38.83px;height:28.93px;overflow:hidden;white-space:nowrap;color:#484848;font-size:14.4px;letter-spacing:0.00px;line-height:28.93px;padding-left:3.63px;padding-top:1.3px;box-sizing:border-box;">2023</div>
<div style="left:417.28px;top:241.47px;width:46.93px;height:28.93px;overflow:hidden;white-space:nowrap;color:#484848;font-size:14.4px;letter-spacing:0.00px;line-height:28.93px;padding-left:3.63px;padding-top:1.3px;box-sizing:border-box;">45</div>
<div style="left:464.21px;top:241.47px;width:70.40px;height:28.93px;overflow:hidden;white-space:nowrap;color:#484848;font-size:14.4px;letter-spacing:0.00px;line-height:28.93px;padding-left:3.63px;padding-top:1.3px;box-sizing:border-box;">18/04/2023</div>
<div style="left:534.61px;top:241.47px;width:61.65px;height:28.93px;overflow:hidden;white-space:nowrap;color:#484848;font-size:14.4px;letter-spacing:0.00px;line-height:28.93px;padding-left:3.63px;padding-top:1.3px;box-sizing:border-box;">12:46:21</div>
<div style="left:596.27px;top:241.47px;width:62.19px;height:28.93px;overflow:hidden;white-space:nowrap;color:#484848;font-size:14.4px;letter-spacing:0.00px;line-height:28.93px;padding-left:3.63px;padding-top:1.3px;box-sizing:border-box;">0</div>
<div style="left:658.45px;top:241.47px;width:61.12px;height:28.93px;overflow:hidden;white-space:nowrap;color:#484848;font-size:14.4px;letter-spacing:0.00px;line-height:28.93px;padding-left:3.63px;padding-top:1.3px;box-sizing:border-box;">0</div>
<div style="left:770.77px;top:241.47px;width:167.89px;height:28.93px;overflow:hidden;white-space:nowrap;color:#484848;font-size:13.6px;letter-spacing:0.00px;line-height:28.93px;padding-left:3.63px;padding-top:1.9px;box-sizing:border-box;">PANETTA ANTIMO</div>
<div style="left:947.84px;top:250.22px;line-height:0;"><svg width="11.5" height="13.5" viewBox="0 0 11 13" ><path d="M0.5 0h6v4h4v9h-10z M7.3 0l3.2 3.2h-3.2z" fill="#111"/></svg></div>
<div style="left:973.65px;top:241.47px;width:207.36px;height:28.93px;overflow:hidden;white-space:nowrap;color:#484848;font-size:13.6px;letter-spacing:0.00px;line-height:28.93px;padding-left:3.63px;padding-top:1.9px;box-sizing:border-box;">COMUNICAZIONE VEDI ALLEGATO</div>
<div style="left:1181.01px;top:241.47px;width:37.97px;height:28.93px;overflow:hidden;white-space:nowrap;color:#484848;font-size:14.4px;letter-spacing:0.00px;line-height:28.93px;padding-left:4.27px;padding-top:1.3px;box-sizing:border-box;">6.3</div>
<div style="left:1226.45px;top:250.22px;line-height:0;"><svg width="12" height="13" viewBox="0 0 12 13" ><path d="M6 0.5c1.8 0 2.9 1.3 2.9 3 0 1.4-.6 2.6-1.5 3.2v1c2.300.5 3.800 1.300 4.100 2.500v1.800h-11v-1.800c.3-1.200 1.800-2 4.100-2.500v-1c-.9-.6-1.500-1.800-1.500-3.200 0-1.700 1.100-3 2.900-3z" fill="#111"/></svg></div>
<div style="left:1257.81px;top:241.47px;width:74.03px;height:28.93px;overflow:hidden;white-space:nowrap;color:#484848;font-size:13.7px;letter-spacing:0.00px;line-height:28.93px;padding-left:4.27px;padding-top:1.9px;box-sizing:border-box;">0000045-18/04</div>
<div style="left:324.69px;top:270.40px;width:27.09px;height:28.93px;overflow:hidden;white-space:nowrap;color:#484848;font-size:14.4px;letter-spacing:0.00px;line-height:28.93px;padding-left:4.05px;padding-top:1.3px;box-sizing:border-box;">P</div>
<div style="left:378.45px;top:270.40px;width:38.83px;height:28.93px;overflow:hidden;white-space:nowrap;color:#484848;font-size:14.4px;letter-spacing:0.00px;line-height:28.93px;padding-left:3.63px;padding-top:1.3px;box-sizing:border-box;">2023</div>
<div style="left:417.28px;top:270.40px;width:46.93px;height:28.93px;overflow:hidden;white-space:nowrap;color:#484848;font-size:14.4px;letter-spacing:0.00px;line-height:28.93px;padding-left:3.63px;padding-top:1.3px;box-sizing:border-box;">39</div>
<div style="left:464.21px;top:270.40px;width:70.40px;height:28.93px;overflow:hidden;white-space:nowrap;color:#484848;font-size:14.4px;letter-spacing:0.00px;line-height:28.93px;padding-left:3.63px;padding-top:1.3px;box-sizing:border-box;">07/03/2023</div>
<div style="left:534.61px;top:270.40px;width:61.65px;height:28.93px;overflow:hidden;white-space:nowrap;color:#484848;font-size:14.4px;letter-spacing:0.00px;line-height:28.93px;padding-left:3.63px;padding-top:1.3px;box-sizing:border-box;">10:41:57</div>
<div style="left:596.27px;top:270.40px;width:62.19px;height:28.93px;overflow:hidden;white-space:nowrap;color:#484848;font-size:14.4px;letter-spacing:0.00px;line-height:28.93px;padding-left:3.63px;padding-top:1.3px;box-sizing:border-box;">0</div>
<div style="left:658.45px;top:270.40px;width:61.12px;height:28.93px;overflow:hidden;white-space:nowrap;color:#484848;font-size:14.4px;letter-spacing:0.00px;line-height:28.93px;padding-left:3.63px;padding-top:1.3px;box-sizing:border-box;">0</div>
<div style="left:770.77px;top:270.40px;width:167.89px;height:28.93px;overflow:hidden;white-space:nowrap;color:#484848;font-size:13.6px;letter-spacing:0.00px;line-height:28.93px;padding-left:3.63px;padding-top:1.9px;box-sizing:border-box;">PANETTA ANTIMO</div>
<div style="left:947.84px;top:279.15px;line-height:0;"><svg width="11.5" height="13.5" viewBox="0 0 11 13" ><path d="M0.5 0h6v4h4v9h-10z M7.3 0l3.2 3.2h-3.2z" fill="#111"/></svg></div>
<div style="left:973.65px;top:270.40px;width:207.36px;height:28.93px;overflow:hidden;white-space:nowrap;color:#484848;font-size:13.6px;letter-spacing:0.00px;line-height:28.93px;padding-left:3.63px;padding-top:1.9px;box-sizing:border-box;">COMUNICAZIONE VEDI ALLEGATO</div>
<div style="left:1181.01px;top:270.40px;width:37.97px;height:28.93px;overflow:hidden;white-space:nowrap;color:#484848;font-size:14.4px;letter-spacing:0.00px;line-height:28.93px;padding-left:4.27px;padding-top:1.3px;box-sizing:border-box;">6.3</div>
<div style="left:1226.45px;top:279.15px;line-height:0;"><svg width="12" height="13" viewBox="0 0 12 13" ><path d="M6 0.5c1.8 0 2.9 1.3 2.9 3 0 1.4-.6 2.6-1.5 3.2v1c2.300.5 3.800 1.300 4.100 2.500v1.800h-11v-1.800c.3-1.200 1.800-2 4.100-2.500v-1c-.9-.6-1.500-1.800-1.500-3.200 0-1.700 1.100-3 2.900-3z" fill="#111"/></svg></div>
<div style="left:1257.81px;top:270.40px;width:74.03px;height:28.93px;overflow:hidden;white-space:nowrap;color:#484848;font-size:13.7px;letter-spacing:0.00px;line-height:28.93px;padding-left:4.27px;padding-top:1.9px;box-sizing:border-box;">0000039-07/03</div>
<div style="left:324.69px;top:299.33px;width:27.09px;height:28.93px;overflow:hidden;white-space:nowrap;color:#484848;font-size:14.4px;letter-spacing:0.00px;line-height:28.93px;padding-left:4.05px;padding-top:1.3px;box-sizing:border-box;">P</div>
<div style="left:360.32px;top:308.50px;line-height:0;"><svg width="5" height="10" viewBox="0 0 5 10" ><path d="M1 0h3v2h1v8h-5v-8h1z" fill="#111"/></svg></div>
<div style="left:378.45px;top:299.33px;width:38.83px;height:28.93px;overflow:hidden;white-space:nowrap;color:#484848;font-size:14.4px;letter-spacing:0.00px;line-height:28.93px;padding-left:3.63px;padding-top:1.3px;box-sizing:border-box;">2023</div>
<div style="left:417.28px;top:299.33px;width:46.93px;height:28.93px;overflow:hidden;white-space:nowrap;color:#484848;font-size:14.4px;letter-spacing:0.00px;line-height:28.93px;padding-left:3.63px;padding-top:1.3px;box-sizing:border-box;">38</div>
<div style="left:464.21px;top:299.33px;width:70.40px;height:28.93px;overflow:hidden;white-space:nowrap;color:#484848;font-size:14.4px;letter-spacing:0.00px;line-height:28.93px;padding-left:3.63px;padding-top:1.3px;box-sizing:border-box;">28/02/2023</div>
<div style="left:534.61px;top:299.33px;width:61.65px;height:28.93px;overflow:hidden;white-space:nowrap;color:#484848;font-size:14.4px;letter-spacing:0.00px;line-height:28.93px;padding-left:3.63px;padding-top:1.3px;box-sizing:border-box;">10:09:28</div>
<div style="left:596.27px;top:299.33px;width:62.19px;height:28.93px;overflow:hidden;white-space:nowrap;color:#484848;font-size:14.4px;letter-spacing:0.00px;line-height:28.93px;padding-left:3.63px;padding-top:1.3px;box-sizing:border-box;">2022000123</div>
<div style="left:658.45px;top:299.33px;width:61.12px;height:28.93px;overflow:hidden;white-space:nowrap;color:#484848;font-size:14.4px;letter-spacing:0.00px;line-height:28.93px;padding-left:3.63px;padding-top:1.3px;box-sizing:border-box;">0</div>
<div style="left:770.77px;top:299.33px;width:167.89px;height:28.93px;overflow:hidden;white-space:nowrap;color:#484848;font-size:13.6px;letter-spacing:0.00px;line-height:28.93px;padding-left:3.63px;padding-top:1.9px;box-sizing:border-box;">BELEGNI BIANCA</div>
<div style="left:947.84px;top:308.07px;line-height:0;"><svg width="11.5" height="13.5" viewBox="0 0 11 13" ><path d="M0.5 0h6v4h4v9h-10z M7.3 0l3.2 3.2h-3.2z" fill="#111"/></svg></div>
<div style="left:973.65px;top:299.33px;width:207.36px;height:28.93px;overflow:hidden;white-space:nowrap;color:#484848;font-size:13.6px;letter-spacing:0.00px;line-height:28.93px;padding-left:3.63px;padding-top:1.9px;box-sizing:border-box;">COMUNICAZIONE VEDI ALLEGATO</div>
<div style="left:1181.01px;top:299.33px;width:37.97px;height:28.93px;overflow:hidden;white-space:nowrap;color:#484848;font-size:14.4px;letter-spacing:0.00px;line-height:28.93px;padding-left:4.27px;padding-top:1.3px;box-sizing:border-box;">6.3</div>
<div style="left:1226.45px;top:308.07px;line-height:0;"><svg width="12" height="13" viewBox="0 0 12 13" ><path d="M6 0.5c1.8 0 2.9 1.3 2.9 3 0 1.4-.6 2.6-1.5 3.2v1c2.300.5 3.800 1.300 4.100 2.500v1.800h-11v-1.800c.3-1.200 1.800-2 4.100-2.500v-1c-.9-.6-1.500-1.800-1.500-3.200 0-1.700 1.100-3 2.900-3z" fill="#111"/></svg></div>
<div style="left:1257.81px;top:299.33px;width:74.03px;height:28.93px;overflow:hidden;white-space:nowrap;color:#484848;font-size:13.7px;letter-spacing:0.00px;line-height:28.93px;padding-left:4.27px;padding-top:1.9px;box-sizing:border-box;">0000038-28/02</div>
<div style="left:324.69px;top:328.26px;width:27.09px;height:28.93px;overflow:hidden;white-space:nowrap;color:#484848;font-size:14.4px;letter-spacing:0.00px;line-height:28.93px;padding-left:4.05px;padding-top:1.3px;box-sizing:border-box;">P</div>
<div style="left:360.32px;top:337.43px;line-height:0;"><svg width="5" height="10" viewBox="0 0 5 10" ><path d="M1 0h3v2h1v8h-5v-8h1z" fill="#111"/></svg></div>
<div style="left:378.45px;top:328.26px;width:38.83px;height:28.93px;overflow:hidden;white-space:nowrap;color:#484848;font-size:14.4px;letter-spacing:0.00px;line-height:28.93px;padding-left:3.63px;padding-top:1.3px;box-sizing:border-box;">2023</div>
<div style="left:417.28px;top:328.26px;width:46.93px;height:28.93px;overflow:hidden;white-space:nowrap;color:#484848;font-size:14.4px;letter-spacing:0.00px;line-height:28.93px;padding-left:3.63px;padding-top:1.3px;box-sizing:border-box;">37</div>
<div style="left:464.21px;top:328.26px;width:70.40px;height:28.93px;overflow:hidden;white-space:nowrap;color:#484848;font-size:14.4px;letter-spacing:0.00px;line-height:28.93px;padding-left:3.63px;padding-top:1.3px;box-sizing:border-box;">28/02/2023</div>
<div style="left:534.61px;top:328.26px;width:61.65px;height:28.93px;overflow:hidden;white-space:nowrap;color:#484848;font-size:14.4px;letter-spacing:0.00px;line-height:28.93px;padding-left:3.63px;padding-top:1.3px;box-sizing:border-box;">10:08:41</div>
<div style="left:596.27px;top:328.26px;width:62.19px;height:28.93px;overflow:hidden;white-space:nowrap;color:#484848;font-size:14.4px;letter-spacing:0.00px;line-height:28.93px;padding-left:3.63px;padding-top:1.3px;box-sizing:border-box;">2023000123</div>
<div style="left:658.45px;top:328.26px;width:61.12px;height:28.93px;overflow:hidden;white-space:nowrap;color:#484848;font-size:14.4px;letter-spacing:0.00px;line-height:28.93px;padding-left:3.63px;padding-top:1.3px;box-sizing:border-box;">0</div>
<div style="left:770.77px;top:328.26px;width:167.89px;height:28.93px;overflow:hidden;white-space:nowrap;color:#484848;font-size:13.6px;letter-spacing:0.00px;line-height:28.93px;padding-left:3.63px;padding-top:1.9px;box-sizing:border-box;">BELEGNI BIANCA</div>
<div style="left:947.84px;top:337.00px;line-height:0;"><svg width="11.5" height="13.5" viewBox="0 0 11 13" ><path d="M0.5 0h6v4h4v9h-10z M7.3 0l3.2 3.2h-3.2z" fill="#111"/></svg></div>
<div style="left:973.65px;top:328.26px;width:207.36px;height:28.93px;overflow:hidden;white-space:nowrap;color:#484848;font-size:13.6px;letter-spacing:0.00px;line-height:28.93px;padding-left:3.63px;padding-top:1.9px;box-sizing:border-box;">COMUNICAZIONE VEDI ALLEGATO</div>
<div style="left:1181.01px;top:328.26px;width:37.97px;height:28.93px;overflow:hidden;white-space:nowrap;color:#484848;font-size:14.4px;letter-spacing:0.00px;line-height:28.93px;padding-left:4.27px;padding-top:1.3px;box-sizing:border-box;">6.3</div>
<div style="left:1226.45px;top:337.00px;line-height:0;"><svg width="12" height="13" viewBox="0 0 12 13" ><path d="M6 0.5c1.8 0 2.9 1.3 2.9 3 0 1.4-.6 2.6-1.5 3.2v1c2.300.5 3.800 1.300 4.100 2.500v1.800h-11v-1.800c.3-1.200 1.800-2 4.100-2.500v-1c-.9-.6-1.500-1.800-1.500-3.200 0-1.700 1.100-3 2.900-3z" fill="#111"/></svg></div>
<div style="left:1257.81px;top:328.26px;width:74.03px;height:28.93px;overflow:hidden;white-space:nowrap;color:#484848;font-size:13.7px;letter-spacing:0.00px;line-height:28.93px;padding-left:4.27px;padding-top:1.9px;box-sizing:border-box;">0000037-28/02</div>
<div style="left:324.69px;top:357.18px;width:27.09px;height:28.93px;overflow:hidden;white-space:nowrap;color:#484848;font-size:14.4px;letter-spacing:0.00px;line-height:28.93px;padding-left:4.05px;padding-top:1.3px;box-sizing:border-box;">P</div>
<div style="left:378.45px;top:357.18px;width:38.83px;height:28.93px;overflow:hidden;white-space:nowrap;color:#484848;font-size:14.4px;letter-spacing:0.00px;line-height:28.93px;padding-left:3.63px;padding-top:1.3px;box-sizing:border-box;">2023</div>
<div style="left:417.28px;top:357.18px;width:46.93px;height:28.93px;overflow:hidden;white-space:nowrap;color:#484848;font-size:14.4px;letter-spacing:0.00px;line-height:28.93px;padding-left:3.63px;padding-top:1.3px;box-sizing:border-box;">36</div>
<div style="left:464.21px;top:357.18px;width:70.40px;height:28.93px;overflow:hidden;white-space:nowrap;color:#484848;font-size:14.4px;letter-spacing:0.00px;line-height:28.93px;padding-left:3.63px;padding-top:1.3px;box-sizing:border-box;">28/02/2023</div>
<div style="left:534.61px;top:357.18px;width:61.65px;height:28.93px;overflow:hidden;white-space:nowrap;color:#484848;font-size:14.4px;letter-spacing:0.00px;line-height:28.93px;padding-left:3.63px;padding-top:1.3px;box-sizing:border-box;">10:06:47</div>
<div style="left:596.27px;top:357.18px;width:62.19px;height:28.93px;overflow:hidden;white-space:nowrap;color:#484848;font-size:14.4px;letter-spacing:0.00px;line-height:28.93px;padding-left:3.63px;padding-top:1.3px;box-sizing:border-box;">0</div>
<div style="left:658.45px;top:357.18px;width:61.12px;height:28.93px;overflow:hidden;white-space:nowrap;color:#484848;font-size:14.4px;letter-spacing:0.00px;line-height:28.93px;padding-left:3.63px;padding-top:1.3px;box-sizing:border-box;">0</div>
<div style="left:770.77px;top:357.18px;width:167.89px;height:28.93px;overflow:hidden;white-space:nowrap;color:#484848;font-size:13.6px;letter-spacing:0.00px;line-height:28.93px;padding-left:3.63px;padding-top:1.9px;box-sizing:border-box;">PANETTA ANTIMO</div>
<div style="left:947.84px;top:365.93px;line-height:0;"><svg width="11.5" height="13.5" viewBox="0 0 11 13" ><path d="M0.5 0h6v4h4v9h-10z M7.3 0l3.2 3.2h-3.2z" fill="#111"/></svg></div>
<div style="left:973.65px;top:357.18px;width:207.36px;height:28.93px;overflow:hidden;white-space:nowrap;color:#484848;font-size:14.4px;letter-spacing:0.15px;line-height:28.93px;padding-left:3.63px;padding-top:1.3px;box-sizing:border-box;">Comunicazione Vedi allegato</div>
<div style="left:1181.01px;top:357.18px;width:37.97px;height:28.93px;overflow:hidden;white-space:nowrap;color:#484848;font-size:14.4px;letter-spacing:0.00px;line-height:28.93px;padding-left:4.27px;padding-top:1.3px;box-sizing:border-box;">6.3</div>
<div style="left:1226.45px;top:365.93px;line-height:0;"><svg width="12" height="13" viewBox="0 0 12 13" ><path d="M6 0.5c1.8 0 2.9 1.3 2.9 3 0 1.4-.6 2.6-1.5 3.2v1c2.300.5 3.800 1.300 4.100 2.500v1.800h-11v-1.800c.3-1.200 1.800-2 4.100-2.500v-1c-.9-.6-1.500-1.800-1.500-3.200 0-1.700 1.100-3 2.900-3z" fill="#111"/></svg></div>
<div style="left:1257.81px;top:357.18px;width:74.03px;height:28.93px;overflow:hidden;white-space:nowrap;color:#484848;font-size:13.7px;letter-spacing:0.00px;line-height:28.93px;padding-left:4.27px;padding-top:1.9px;box-sizing:border-box;">0000036-28/02</div>
<div style="left:324.69px;top:386.11px;width:27.09px;height:28.93px;overflow:hidden;white-space:nowrap;color:#484848;font-size:14.4px;letter-spacing:0.00px;line-height:28.93px;padding-left:4.05px;padding-top:1.3px;box-sizing:border-box;">P</div>
<div style="left:373.76px;top:395.29px;line-height:0;"><svg width="5" height="10" viewBox="0 0 5 10" ><path d="M1 0h3v2h1v8h-5v-8h1z" fill="#111"/></svg></div>
<div style="left:378.45px;top:386.11px;width:38.83px;height:28.93px;overflow:hidden;white-space:nowrap;color:#484848;font-size:14.4px;letter-spacing:0.00px;line-height:28.93px;padding-left:3.63px;padding-top:1.3px;box-sizing:border-box;">2023</div>
<div style="left:417.28px;top:386.11px;width:46.93px;height:28.93px;overflow:hidden;white-space:nowrap;color:#484848;font-size:14.4px;letter-spacing:0.00px;line-height:28.93px;padding-left:3.63px;padding-top:1.3px;box-sizing:border-box;">35</div>
<div style="left:464.21px;top:386.11px;width:70.40px;height:28.93px;overflow:hidden;white-space:nowrap;color:#484848;font-size:14.4px;letter-spacing:0.00px;line-height:28.93px;padding-left:3.63px;padding-top:1.3px;box-sizing:border-box;">28/02/2023</div>
<div style="left:534.61px;top:386.11px;width:61.65px;height:28.93px;overflow:hidden;white-space:nowrap;color:#484848;font-size:14.4px;letter-spacing:0.00px;line-height:28.93px;padding-left:3.63px;padding-top:1.3px;box-sizing:border-box;">10:06:25</div>
<div style="left:596.27px;top:386.11px;width:62.19px;height:28.93px;overflow:hidden;white-space:nowrap;color:#484848;font-size:14.4px;letter-spacing:0.00px;line-height:28.93px;padding-left:3.63px;padding-top:1.3px;box-sizing:border-box;">0</div>
<div style="left:658.45px;top:386.11px;width:61.12px;height:28.93px;overflow:hidden;white-space:nowrap;color:#484848;font-size:14.4px;letter-spacing:0.00px;line-height:28.93px;padding-left:3.63px;padding-top:1.3px;box-sizing:border-box;">0</div>
<div style="left:770.77px;top:386.11px;width:167.89px;height:28.93px;overflow:hidden;white-space:nowrap;color:#484848;font-size:13.6px;letter-spacing:0.00px;line-height:28.93px;padding-left:3.63px;padding-top:1.9px;box-sizing:border-box;">BELEGNI BIANCA</div>
<div style="left:947.84px;top:394.86px;line-height:0;"><svg width="11.5" height="13.5" viewBox="0 0 11 13" ><path d="M0.5 0h6v4h4v9h-10z M7.3 0l3.2 3.2h-3.2z" fill="#111"/></svg></div>
<div style="left:973.65px;top:386.11px;width:207.36px;height:28.93px;overflow:hidden;white-space:nowrap;color:#484848;font-size:14.4px;letter-spacing:0.15px;line-height:28.93px;padding-left:3.63px;padding-top:1.3px;box-sizing:border-box;">Comunicazione Vedi allegato</div>
<div style="left:1181.01px;top:386.11px;width:37.97px;height:28.93px;overflow:hidden;white-space:nowrap;color:#484848;font-size:14.4px;letter-spacing:0.00px;line-height:28.93px;padding-left:4.27px;padding-top:1.3px;box-sizing:border-box;">6.3</div>
<div style="left:1226.45px;top:394.86px;line-height:0;"><svg width="12" height="13" viewBox="0 0 12 13" ><path d="M6 0.5c1.8 0 2.9 1.3 2.9 3 0 1.4-.6 2.6-1.5 3.2v1c2.300.5 3.800 1.300 4.100 2.500v1.800h-11v-1.800c.3-1.200 1.800-2 4.100-2.500v-1c-.9-.6-1.500-1.800-1.500-3.200 0-1.700 1.100-3 2.900-3z" fill="#111"/></svg></div>
<div style="left:1257.81px;top:386.11px;width:74.03px;height:28.93px;overflow:hidden;white-space:nowrap;color:#484848;font-size:13.7px;letter-spacing:0.00px;line-height:28.93px;padding-left:4.27px;padding-top:1.9px;box-sizing:border-box;">0000035-28/02</div>
<div style="left:324.69px;top:415.04px;width:27.09px;height:28.93px;overflow:hidden;white-space:nowrap;color:#484848;font-size:14.4px;letter-spacing:0.00px;line-height:28.93px;padding-left:4.05px;padding-top:1.3px;box-sizing:border-box;">P</div>
<div style="left:378.45px;top:415.04px;width:38.83px;height:28.93px;overflow:hidden;white-space:nowrap;color:#484848;font-size:14.4px;letter-spacing:0.00px;line-height:28.93px;padding-left:3.63px;padding-top:1.3px;box-sizing:border-box;">2023</div>
<div style="left:417.28px;top:415.04px;width:46.93px;height:28.93px;overflow:hidden;white-space:nowrap;color:#484848;font-size:14.4px;letter-spacing:0.00px;line-height:28.93px;padding-left:3.63px;padding-top:1.3px;box-sizing:border-box;">34</div>
<div style="left:464.21px;top:415.04px;width:70.40px;height:28.93px;overflow:hidden;white-space:nowrap;color:#484848;font-size:14.4px;letter-spacing:0.00px;line-height:28.93px;padding-left:3.63px;padding-top:1.3px;box-sizing:border-box;">28/02/2023</div>
<div style="left:534.61px;top:415.04px;width:61.65px;height:28.93px;overflow:hidden;white-space:nowrap;color:#484848;font-size:14.4px;letter-spacing:0.00px;line-height:28.93px;padding-left:3.63px;padding-top:1.3px;box-sizing:border-box;">09:57:08</div>
<div style="left:596.27px;top:415.04px;width:62.19px;height:28.93px;overflow:hidden;white-space:nowrap;color:#484848;font-size:14.4px;letter-spacing:0.00px;line-height:28.93px;padding-left:3.63px;padding-top:1.3px;box-sizing:border-box;">0</div>
<div style="left:658.45px;top:415.04px;width:61.12px;height:28.93px;overflow:hidden;white-space:nowrap;color:#484848;font-size:14.4px;letter-spacing:0.00px;line-height:28.93px;padding-left:3.63px;padding-top:1.3px;box-sizing:border-box;">0</div>
<div style="left:770.77px;top:415.04px;width:167.89px;height:28.93px;overflow:hidden;white-space:nowrap;color:#484848;font-size:13.6px;letter-spacing:0.00px;line-height:28.93px;padding-left:3.63px;padding-top:1.9px;box-sizing:border-box;">BELEGNI BIANCA</div>
<div style="left:947.84px;top:423.79px;line-height:0;"><svg width="11.5" height="13.5" viewBox="0 0 11 13" ><path d="M0.5 0h6v4h4v9h-10z M7.3 0l3.2 3.2h-3.2z" fill="#111"/></svg></div>
<div style="left:973.65px;top:415.04px;width:207.36px;height:28.93px;overflow:hidden;white-space:nowrap;color:#484848;font-size:14.4px;letter-spacing:0.15px;line-height:28.93px;padding-left:3.63px;padding-top:1.3px;box-sizing:border-box;">Comunicazione Vedi allegato</div>
<div style="left:1181.01px;top:415.04px;width:37.97px;height:28.93px;overflow:hidden;white-space:nowrap;color:#484848;font-size:14.4px;letter-spacing:0.00px;line-height:28.93px;padding-left:4.27px;padding-top:1.3px;box-sizing:border-box;">6.3</div>
<div style="left:1226.45px;top:423.79px;line-height:0;"><svg width="12" height="13" viewBox="0 0 12 13" ><path d="M6 0.5c1.8 0 2.9 1.3 2.9 3 0 1.4-.6 2.6-1.5 3.2v1c2.300.5 3.800 1.300 4.100 2.500v1.800h-11v-1.800c.3-1.200 1.800-2 4.100-2.500v-1c-.9-.6-1.500-1.800-1.500-3.200 0-1.700 1.100-3 2.900-3z" fill="#111"/></svg></div>
<div style="left:1257.81px;top:415.04px;width:74.03px;height:28.93px;overflow:hidden;white-space:nowrap;color:#484848;font-size:13.7px;letter-spacing:0.00px;line-height:28.93px;padding-left:4.27px;padding-top:1.9px;box-sizing:border-box;">0000034-28/02</div>
<div style="left:324.69px;top:443.97px;width:27.09px;height:28.93px;overflow:hidden;white-space:nowrap;color:#484848;font-size:14.4px;letter-spacing:0.00px;line-height:28.93px;padding-left:4.05px;padding-top:1.3px;box-sizing:border-box;">P</div>
<div style="left:378.45px;top:443.97px;width:38.83px;height:28.93px;overflow:hidden;white-space:nowrap;color:#484848;font-size:14.4px;letter-spacing:0.00px;line-height:28.93px;padding-left:3.63px;padding-top:1.3px;box-sizing:border-box;">2023</div>
<div style="left:417.28px;top:443.97px;width:46.93px;height:28.93px;overflow:hidden;white-space:nowrap;color:#484848;font-size:14.4px;letter-spacing:0.00px;line-height:28.93px;padding-left:3.63px;padding-top:1.3px;box-sizing:border-box;">33</div>
<div style="left:464.21px;top:443.97px;width:70.40px;height:28.93px;overflow:hidden;white-space:nowrap;color:#484848;font-size:14.4px;letter-spacing:0.00px;line-height:28.93px;padding-left:3.63px;padding-top:1.3px;box-sizing:border-box;">28/02/2023</div>
<div style="left:534.61px;top:443.97px;width:61.65px;height:28.93px;overflow:hidden;white-space:nowrap;color:#484848;font-size:14.4px;letter-spacing:0.00px;line-height:28.93px;padding-left:3.63px;padding-top:1.3px;box-sizing:border-box;">09:40:17</div>
<div style="left:596.27px;top:443.97px;width:62.19px;height:28.93px;overflow:hidden;white-space:nowrap;color:#484848;font-size:14.4px;letter-spacing:0.00px;line-height:28.93px;padding-left:3.63px;padding-top:1.3px;box-sizing:border-box;">0</div>
<div style="left:658.45px;top:443.97px;width:61.12px;height:28.93px;overflow:hidden;white-space:nowrap;color:#484848;font-size:14.4px;letter-spacing:0.00px;line-height:28.93px;padding-left:3.63px;padding-top:1.3px;box-sizing:border-box;">0</div>
<div style="left:770.77px;top:443.97px;width:167.89px;height:28.93px;overflow:hidden;white-space:nowrap;color:#484848;font-size:13.6px;letter-spacing:0.00px;line-height:28.93px;padding-left:3.63px;padding-top:1.9px;box-sizing:border-box;">PANETTA ANTIMO</div>
<div style="left:947.84px;top:452.71px;line-height:0;"><svg width="11.5" height="13.5" viewBox="0 0 11 13" ><path d="M0.5 0h6v4h4v9h-10z M7.3 0l3.2 3.2h-3.2z" fill="#111"/></svg></div>
<div style="left:973.65px;top:443.97px;width:207.36px;height:28.93px;overflow:hidden;white-space:nowrap;color:#484848;font-size:14.4px;letter-spacing:0.15px;line-height:28.93px;padding-left:3.63px;padding-top:1.3px;box-sizing:border-box;">Comunicazione Vedi allegato</div>
<div style="left:1181.01px;top:443.97px;width:37.97px;height:28.93px;overflow:hidden;white-space:nowrap;color:#484848;font-size:14.4px;letter-spacing:0.00px;line-height:28.93px;padding-left:4.27px;padding-top:1.3px;box-sizing:border-box;">6.3</div>
<div style="left:1226.45px;top:452.71px;line-height:0;"><svg width="12" height="13" viewBox="0 0 12 13" ><path d="M6 0.5c1.8 0 2.9 1.3 2.9 3 0 1.4-.6 2.6-1.5 3.2v1c2.300.5 3.800 1.300 4.100 2.500v1.800h-11v-1.800c.3-1.200 1.800-2 4.100-2.500v-1c-.9-.6-1.500-1.800-1.500-3.200 0-1.700 1.100-3 2.900-3z" fill="#111"/></svg></div>
<div style="left:1257.81px;top:443.97px;width:74.03px;height:28.93px;overflow:hidden;white-space:nowrap;color:#484848;font-size:13.7px;letter-spacing:0.00px;line-height:28.93px;padding-left:4.27px;padding-top:1.9px;box-sizing:border-box;">0000033-28/02</div>
<div style="left:324.69px;top:472.90px;width:27.09px;height:28.93px;overflow:hidden;white-space:nowrap;color:#484848;font-size:14.4px;letter-spacing:0.00px;line-height:28.93px;padding-left:4.05px;padding-top:1.3px;box-sizing:border-box;">P</div>
<div style="left:378.45px;top:472.90px;width:38.83px;height:28.93px;overflow:hidden;white-space:nowrap;color:#484848;font-size:14.4px;letter-spacing:0.00px;line-height:28.93px;padding-left:3.63px;padding-top:1.3px;box-sizing:border-box;">2023</div>
<div style="left:417.28px;top:472.90px;width:46.93px;height:28.93px;overflow:hidden;white-space:nowrap;color:#484848;font-size:14.4px;letter-spacing:0.00px;line-height:28.93px;padding-left:3.63px;padding-top:1.3px;box-sizing:border-box;">32</div>
<div style="left:464.21px;top:472.90px;width:70.40px;height:28.93px;overflow:hidden;white-space:nowrap;color:#484848;font-size:14.4px;letter-spacing:0.00px;line-height:28.93px;padding-left:3.63px;padding-top:1.3px;box-sizing:border-box;">28/02/2023</div>
<div style="left:534.61px;top:472.90px;width:61.65px;height:28.93px;overflow:hidden;white-space:nowrap;color:#484848;font-size:14.4px;letter-spacing:0.00px;line-height:28.93px;padding-left:3.63px;padding-top:1.3px;box-sizing:border-box;">09:38:21</div>
<div style="left:596.27px;top:472.90px;width:62.19px;height:28.93px;overflow:hidden;white-space:nowrap;color:#484848;font-size:14.4px;letter-spacing:0.00px;line-height:28.93px;padding-left:3.63px;padding-top:1.3px;box-sizing:border-box;">0</div>
<div style="left:658.45px;top:472.90px;width:61.12px;height:28.93px;overflow:hidden;white-space:nowrap;color:#484848;font-size:14.4px;letter-spacing:0.00px;line-height:28.93px;padding-left:3.63px;padding-top:1.3px;box-sizing:border-box;">0</div>
<div style="left:770.77px;top:472.90px;width:167.89px;height:28.93px;overflow:hidden;white-space:nowrap;color:#484848;font-size:13.6px;letter-spacing:0.00px;line-height:28.93px;padding-left:3.63px;padding-top:1.9px;box-sizing:border-box;">BELEGNI BIANCA</div>
<div style="left:947.84px;top:481.64px;line-height:0;"><svg width="11.5" height="13.5" viewBox="0 0 11 13" ><path d="M0.5 0h6v4h4v9h-10z M7.3 0l3.2 3.2h-3.2z" fill="#111"/></svg></div>
<div style="left:973.65px;top:472.90px;width:207.36px;height:28.93px;overflow:hidden;white-space:nowrap;color:#484848;font-size:14.4px;letter-spacing:0.15px;line-height:28.93px;padding-left:3.63px;padding-top:1.3px;box-sizing:border-box;">Comunicazione Vedi allegato</div>
<div style="left:1181.01px;top:472.90px;width:37.97px;height:28.93px;overflow:hidden;white-space:nowrap;color:#484848;font-size:14.4px;letter-spacing:0.00px;line-height:28.93px;padding-left:4.27px;padding-top:1.3px;box-sizing:border-box;">6.3</div>
<div style="left:1226.45px;top:481.64px;line-height:0;"><svg width="12" height="13" viewBox="0 0 12 13" ><path d="M6 0.5c1.8 0 2.9 1.3 2.9 3 0 1.4-.6 2.6-1.5 3.2v1c2.300.5 3.800 1.300 4.100 2.500v1.800h-11v-1.800c.3-1.200 1.800-2 4.100-2.500v-1c-.9-.6-1.500-1.800-1.500-3.200 0-1.700 1.100-3 2.900-3z" fill="#111"/></svg></div>
<div style="left:1257.81px;top:472.90px;width:74.03px;height:28.93px;overflow:hidden;white-space:nowrap;color:#484848;font-size:13.7px;letter-spacing:0.00px;line-height:28.93px;padding-left:4.27px;padding-top:1.9px;box-sizing:border-box;">0000032-28/02</div>
<div style="left:324.69px;top:501.82px;width:27.09px;height:28.93px;overflow:hidden;white-space:nowrap;color:#484848;font-size:14.4px;letter-spacing:0.00px;line-height:28.93px;padding-left:4.05px;padding-top:1.3px;box-sizing:border-box;">P</div>
<div style="left:378.45px;top:501.82px;width:38.83px;height:28.93px;overflow:hidden;white-space:nowrap;color:#484848;font-size:14.4px;letter-spacing:0.00px;line-height:28.93px;padding-left:3.63px;padding-top:1.3px;box-sizing:border-box;">2023</div>
<div style="left:417.28px;top:501.82px;width:46.93px;height:28.93px;overflow:hidden;white-space:nowrap;color:#484848;font-size:14.4px;letter-spacing:0.00px;line-height:28.93px;padding-left:3.63px;padding-top:1.3px;box-sizing:border-box;">31</div>
<div style="left:464.21px;top:501.82px;width:70.40px;height:28.93px;overflow:hidden;white-space:nowrap;color:#484848;font-size:14.4px;letter-spacing:0.00px;line-height:28.93px;padding-left:3.63px;padding-top:1.3px;box-sizing:border-box;">28/02/2023</div>
<div style="left:534.61px;top:501.82px;width:61.65px;height:28.93px;overflow:hidden;white-space:nowrap;color:#484848;font-size:14.4px;letter-spacing:0.00px;line-height:28.93px;padding-left:3.63px;padding-top:1.3px;box-sizing:border-box;">09:36:34</div>
<div style="left:596.27px;top:501.82px;width:62.19px;height:28.93px;overflow:hidden;white-space:nowrap;color:#484848;font-size:14.4px;letter-spacing:0.00px;line-height:28.93px;padding-left:3.63px;padding-top:1.3px;box-sizing:border-box;">0</div>
<div style="left:658.45px;top:501.82px;width:61.12px;height:28.93px;overflow:hidden;white-space:nowrap;color:#484848;font-size:14.4px;letter-spacing:0.00px;line-height:28.93px;padding-left:3.63px;padding-top:1.3px;box-sizing:border-box;">0</div>
<div style="left:770.77px;top:501.82px;width:167.89px;height:28.93px;overflow:hidden;white-space:nowrap;color:#484848;font-size:13.6px;letter-spacing:0.00px;line-height:28.93px;padding-left:3.63px;padding-top:1.9px;box-sizing:border-box;">BELEGNI BIANCA</div>
<div style="left:947.84px;top:510.57px;line-height:0;"><svg width="11.5" height="13.5" viewBox="0 0 11 13" ><path d="M0.5 0h6v4h4v9h-10z M7.3 0l3.2 3.2h-3.2z" fill="#111"/></svg></div>
<div style="left:973.65px;top:501.82px;width:207.36px;height:28.93px;overflow:hidden;white-space:nowrap;color:#484848;font-size:14.4px;letter-spacing:0.15px;line-height:28.93px;padding-left:3.63px;padding-top:1.3px;box-sizing:border-box;">Comunicazione Vedi allegato</div>
<div style="left:1181.01px;top:501.82px;width:37.97px;height:28.93px;overflow:hidden;white-space:nowrap;color:#484848;font-size:14.4px;letter-spacing:0.00px;line-height:28.93px;padding-left:4.27px;padding-top:1.3px;box-sizing:border-box;">6.3</div>
<div style="left:1226.45px;top:510.57px;line-height:0;"><svg width="12" height="13" viewBox="0 0 12 13" ><path d="M6 0.5c1.8 0 2.9 1.3 2.9 3 0 1.4-.6 2.6-1.5 3.2v1c2.300.5 3.800 1.300 4.100 2.500v1.800h-11v-1.800c.3-1.200 1.800-2 4.100-2.500v-1c-.9-.6-1.500-1.800-1.500-3.200 0-1.700 1.100-3 2.900-3z" fill="#111"/></svg></div>
<div style="left:1257.81px;top:501.82px;width:74.03px;height:28.93px;overflow:hidden;white-space:nowrap;color:#484848;font-size:13.7px;letter-spacing:0.00px;line-height:28.93px;padding-left:4.27px;padding-top:1.9px;box-sizing:border-box;">0000031-28/02</div>
<div style="left:324.69px;top:530.75px;width:27.09px;height:28.93px;overflow:hidden;white-space:nowrap;color:#484848;font-size:14.4px;letter-spacing:0.00px;line-height:28.93px;padding-left:4.05px;padding-top:1.3px;box-sizing:border-box;">P</div>
<div style="left:360.32px;top:539.93px;line-height:0;"><svg width="5" height="10" viewBox="0 0 5 10" ><path d="M1 0h3v2h1v8h-5v-8h1z" fill="#111"/></svg></div>
<div style="left:373.76px;top:539.93px;line-height:0;"><svg width="5" height="10" viewBox="0 0 5 10" ><path d="M1 0h3v2h1v8h-5v-8h1z" fill="#111"/></svg></div>
<div style="left:378.45px;top:530.75px;width:38.83px;height:28.93px;overflow:hidden;white-space:nowrap;color:#484848;font-size:14.4px;letter-spacing:0.00px;line-height:28.93px;padding-left:3.63px;padding-top:1.3px;box-sizing:border-box;">2023</div>
<div style="left:417.28px;top:530.75px;width:46.93px;height:28.93px;overflow:hidden;white-space:nowrap;color:#484848;font-size:14.4px;letter-spacing:0.00px;line-height:28.93px;padding-left:3.63px;padding-top:1.3px;box-sizing:border-box;">30</div>
<div style="left:464.21px;top:530.75px;width:70.40px;height:28.93px;overflow:hidden;white-space:nowrap;color:#484848;font-size:14.4px;letter-spacing:0.00px;line-height:28.93px;padding-left:3.63px;padding-top:1.3px;box-sizing:border-box;">27/02/2023</div>
<div style="left:534.61px;top:530.75px;width:61.65px;height:28.93px;overflow:hidden;white-space:nowrap;color:#484848;font-size:14.4px;letter-spacing:0.00px;line-height:28.93px;padding-left:3.63px;padding-top:1.3px;box-sizing:border-box;">10:52:43</div>
<div style="left:596.27px;top:530.75px;width:62.19px;height:28.93px;overflow:hidden;white-space:nowrap;color:#484848;font-size:14.4px;letter-spacing:0.00px;line-height:28.93px;padding-left:3.63px;padding-top:1.3px;box-sizing:border-box;">2023000123</div>
<div style="left:658.45px;top:530.75px;width:61.12px;height:28.93px;overflow:hidden;white-space:nowrap;color:#484848;font-size:14.4px;letter-spacing:0.00px;line-height:28.93px;padding-left:3.63px;padding-top:1.3px;box-sizing:border-box;">0</div>
<div style="left:770.77px;top:530.75px;width:167.89px;height:28.93px;overflow:hidden;white-space:nowrap;color:#484848;font-size:13.6px;letter-spacing:0.00px;line-height:28.93px;padding-left:3.63px;padding-top:1.9px;box-sizing:border-box;">TEST</div>
<div style="left:947.84px;top:539.50px;line-height:0;"><svg width="11.5" height="13.5" viewBox="0 0 11 13" ><path d="M0.5 0h6v4h4v9h-10z M7.3 0l3.2 3.2h-3.2z" fill="#111"/></svg></div>
<div style="left:973.65px;top:530.75px;width:207.36px;height:28.93px;overflow:hidden;white-space:nowrap;color:#484848;font-size:13.6px;letter-spacing:0.00px;line-height:28.93px;padding-left:3.63px;padding-top:1.9px;box-sizing:border-box;">TEST DOCUMENTO FORMALE</div>
<div style="left:1181.01px;top:530.75px;width:37.97px;height:28.93px;overflow:hidden;white-space:nowrap;color:#484848;font-size:14.4px;letter-spacing:0.00px;line-height:28.93px;padding-left:4.27px;padding-top:1.3px;box-sizing:border-box;">1.2</div>
<div style="left:1226.45px;top:539.50px;line-height:0;"><svg width="12" height="13" viewBox="0 0 12 13" ><path d="M6 0.5c1.8 0 2.9 1.3 2.9 3 0 1.4-.6 2.6-1.5 3.2v1c2.300.5 3.800 1.300 4.100 2.500v1.800h-11v-1.800c.3-1.200 1.800-2 4.100-2.500v-1c-.9-.6-1.500-1.800-1.500-3.200 0-1.700 1.100-3 2.900-3z" fill="#111"/></svg></div>
<div style="left:1257.81px;top:530.75px;width:74.03px;height:28.93px;overflow:hidden;white-space:nowrap;color:#484848;font-size:13.7px;letter-spacing:0.00px;line-height:28.93px;padding-left:4.27px;padding-top:1.9px;box-sizing:border-box;">0000030-27/02</div>
<div style="left:324.69px;top:559.68px;width:27.09px;height:28.93px;overflow:hidden;white-space:nowrap;color:#484848;font-size:14.4px;letter-spacing:0.00px;line-height:28.93px;padding-left:4.05px;padding-top:1.3px;box-sizing:border-box;">P</div>
<div style="left:378.45px;top:559.68px;width:38.83px;height:28.93px;overflow:hidden;white-space:nowrap;color:#484848;font-size:14.4px;letter-spacing:0.00px;line-height:28.93px;padding-left:3.63px;padding-top:1.3px;box-sizing:border-box;">2023</div>
<div style="left:417.28px;top:559.68px;width:46.93px;height:28.93px;overflow:hidden;white-space:nowrap;color:#484848;font-size:14.4px;letter-spacing:0.00px;line-height:28.93px;padding-left:3.63px;padding-top:1.3px;box-sizing:border-box;">24</div>
<div style="left:464.21px;top:559.68px;width:70.40px;height:28.93px;overflow:hidden;white-space:nowrap;color:#484848;font-size:14.4px;letter-spacing:0.00px;line-height:28.93px;padding-left:3.63px;padding-top:1.3px;box-sizing:border-box;">13/02/2023</div>
<div style="left:534.61px;top:559.68px;width:61.65px;height:28.93px;overflow:hidden;white-space:nowrap;color:#484848;font-size:14.4px;letter-spacing:0.00px;line-height:28.93px;padding-left:3.63px;padding-top:1.3px;box-sizing:border-box;">17:07:48</div>
<div style="left:596.27px;top:559.68px;width:62.19px;height:28.93px;overflow:hidden;white-space:nowrap;color:#484848;font-size:14.4px;letter-spacing:0.00px;line-height:28.93px;padding-left:3.63px;padding-top:1.3px;box-sizing:border-box;">0</div>
<div style="left:658.45px;top:559.68px;width:61.12px;height:28.93px;overflow:hidden;white-space:nowrap;color:#484848;font-size:14.4px;letter-spacing:0.00px;line-height:28.93px;padding-left:3.63px;padding-top:1.3px;box-sizing:border-box;">0</div>
<div style="left:770.77px;top:559.68px;width:167.89px;height:28.93px;overflow:hidden;white-space:nowrap;color:#484848;font-size:13.6px;letter-spacing:0.00px;line-height:28.93px;padding-left:3.63px;padding-top:1.9px;box-sizing:border-box;">ITALSOFT</div>
<div style="left:947.84px;top:568.43px;line-height:0;"><svg width="11.5" height="13.5" viewBox="0 0 11 13" ><path d="M0.5 0h6v4h4v9h-10z M7.3 0l3.2 3.2h-3.2z" fill="#111"/></svg></div>
<div style="left:973.65px;top:559.68px;width:207.36px;height:28.93px;overflow:hidden;white-space:nowrap;color:#484848;font-size:13.6px;letter-spacing:0.00px;line-height:28.93px;padding-left:3.63px;padding-top:1.9px;box-sizing:border-box;">PROVA ALLEGATO DOPPIO</div>
<div style="left:1181.01px;top:559.68px;width:37.97px;height:28.93px;overflow:hidden;white-space:nowrap;color:#484848;font-size:14.4px;letter-spacing:0.00px;line-height:28.93px;padding-left:4.27px;padding-top:1.3px;box-sizing:border-box;">1.1.1</div>
<div style="left:1226.45px;top:568.43px;line-height:0;"><svg width="12" height="13" viewBox="0 0 12 13" ><path d="M6 0.5c1.8 0 2.9 1.3 2.9 3 0 1.4-.6 2.6-1.5 3.2v1c2.300.5 3.800 1.300 4.100 2.500v1.800h-11v-1.800c.3-1.200 1.800-2 4.100-2.500v-1c-.9-.6-1.500-1.800-1.500-3.200 0-1.700 1.100-3 2.900-3z" fill="#111"/></svg></div>
<div style="left:1257.81px;top:559.68px;width:74.03px;height:28.93px;overflow:hidden;white-space:nowrap;color:#484848;font-size:13.7px;letter-spacing:0.00px;line-height:28.93px;padding-left:4.27px;padding-top:1.9px;box-sizing:border-box;">0000024-13/02</div>
<div style="left:324.69px;top:588.61px;width:27.09px;height:28.93px;overflow:hidden;white-space:nowrap;color:#484848;font-size:14.4px;letter-spacing:0.00px;line-height:28.93px;padding-left:4.05px;padding-top:1.3px;box-sizing:border-box;">P</div>
<div style="left:378.45px;top:588.61px;width:38.83px;height:28.93px;overflow:hidden;white-space:nowrap;color:#484848;font-size:14.4px;letter-spacing:0.00px;line-height:28.93px;padding-left:3.63px;padding-top:1.3px;box-sizing:border-box;">2023</div>
<div style="left:417.28px;top:588.61px;width:46.93px;height:28.93px;overflow:hidden;white-space:nowrap;color:#484848;font-size:14.4px;letter-spacing:0.00px;line-height:28.93px;padding-left:3.63px;padding-top:1.3px;box-sizing:border-box;">23</div>
<div style="left:464.21px;top:588.61px;width:70.40px;height:28.93px;overflow:hidden;white-space:nowrap;color:#484848;font-size:14.4px;letter-spacing:0.00px;line-height:28.93px;padding-left:3.63px;padding-top:1.3px;box-sizing:border-box;">13/02/2023</div>
<div style="left:534.61px;top:588.61px;width:61.65px;height:28.93px;overflow:hidden;white-space:nowrap;color:#484848;font-size:14.4px;letter-spacing:0.00px;line-height:28.93px;padding-left:3.63px;padding-top:1.3px;box-sizing:border-box;">16:35:01</div>
<div style="left:596.27px;top:588.61px;width:62.19px;height:28.93px;overflow:hidden;white-space:nowrap;color:#484848;font-size:14.4px;letter-spacing:0.00px;line-height:28.93px;padding-left:3.63px;padding-top:1.3px;box-sizing:border-box;">0</div>
<div style="left:658.45px;top:588.61px;width:61.12px;height:28.93px;overflow:hidden;white-space:nowrap;color:#484848;font-size:14.4px;letter-spacing:0.00px;line-height:28.93px;padding-left:3.63px;padding-top:1.3px;box-sizing:border-box;">0</div>
<div style="left:770.77px;top:588.61px;width:167.89px;height:28.93px;overflow:hidden;white-space:nowrap;color:#484848;font-size:13.6px;letter-spacing:0.00px;line-height:28.93px;padding-left:3.63px;padding-top:1.9px;box-sizing:border-box;">A.R.N.A.S. CIVICO - DI CRISTINA</div>
<div style="left:947.84px;top:597.35px;line-height:0;"><svg width="11.5" height="13.5" viewBox="0 0 11 13" ><path d="M0.5 0h6v4h4v9h-10z M7.3 0l3.2 3.2h-3.2z" fill="#111"/></svg></div>
<div style="left:973.65px;top:588.61px;width:207.36px;height:28.93px;overflow:hidden;white-space:nowrap;color:#484848;font-size:13.6px;letter-spacing:0.00px;line-height:28.93px;padding-left:3.63px;padding-top:1.9px;box-sizing:border-box;">AAAAAAAAAAAAAAAAAAAAAAAAAAAA</div>
<div style="left:1181.01px;top:588.61px;width:37.97px;height:28.93px;overflow:hidden;white-space:nowrap;color:#484848;font-size:14.4px;letter-spacing:0.00px;line-height:28.93px;padding-left:4.27px;padding-top:1.3px;box-sizing:border-box;">5</div>
<div style="left:1226.45px;top:597.35px;line-height:0;"><svg width="12" height="13" viewBox="0 0 12 13" ><path d="M6 0.5c1.8 0 2.9 1.3 2.9 3 0 1.4-.6 2.6-1.5 3.2v1c2.300.5 3.800 1.300 4.100 2.500v1.800h-11v-1.800c.3-1.200 1.800-2 4.100-2.500v-1c-.9-.6-1.500-1.800-1.500-3.200 0-1.700 1.100-3 2.900-3z" fill="#111"/></svg></div>
<div style="left:1257.81px;top:588.61px;width:74.03px;height:28.93px;overflow:hidden;white-space:nowrap;color:#484848;font-size:13.7px;letter-spacing:0.00px;line-height:28.93px;padding-left:4.27px;padding-top:1.9px;box-sizing:border-box;">0000023-13/02</div>
<div style="left:324.69px;top:617.54px;width:27.09px;height:28.93px;overflow:hidden;white-space:nowrap;color:#484848;font-size:14.4px;letter-spacing:0.00px;line-height:28.93px;padding-left:4.05px;padding-top:1.3px;box-sizing:border-box;">P</div>
<div style="left:360.32px;top:626.71px;line-height:0;"><svg width="5" height="10" viewBox="0 0 5 10" ><path d="M1 0h3v2h1v8h-5v-8h1z" fill="#111"/></svg></div>
<div style="left:378.45px;top:617.54px;width:38.83px;height:28.93px;overflow:hidden;white-space:nowrap;color:#484848;font-size:14.4px;letter-spacing:0.00px;line-height:28.93px;padding-left:3.63px;padding-top:1.3px;box-sizing:border-box;">2023</div>
<div style="left:417.28px;top:617.54px;width:46.93px;height:28.93px;overflow:hidden;white-space:nowrap;color:#484848;font-size:14.4px;letter-spacing:0.00px;line-height:28.93px;padding-left:3.63px;padding-top:1.3px;box-sizing:border-box;">22</div>
<div style="left:464.21px;top:617.54px;width:70.40px;height:28.93px;overflow:hidden;white-space:nowrap;color:#484848;font-size:14.4px;letter-spacing:0.00px;line-height:28.93px;padding-left:3.63px;padding-top:1.3px;box-sizing:border-box;">09/02/2023</div>
<div style="left:534.61px;top:617.54px;width:61.65px;height:28.93px;overflow:hidden;white-space:nowrap;color:#484848;font-size:14.4px;letter-spacing:0.00px;line-height:28.93px;padding-left:3.63px;padding-top:1.3px;box-sizing:border-box;">15:47:55</div>
<div style="left:596.27px;top:617.54px;width:62.19px;height:28.93px;overflow:hidden;white-space:nowrap;color:#484848;font-size:14.4px;letter-spacing:0.00px;line-height:28.93px;padding-left:3.63px;padding-top:1.3px;box-sizing:border-box;">2023000123</div>
<div style="left:658.45px;top:617.54px;width:61.12px;height:28.93px;overflow:hidden;white-space:nowrap;color:#484848;font-size:14.4px;letter-spacing:0.00px;line-height:28.93px;padding-left:3.63px;padding-top:1.3px;box-sizing:border-box;">0</div>
<div style="left:770.77px;top:617.54px;width:167.89px;height:28.93px;overflow:hidden;white-space:nowrap;color:#484848;font-size:13.6px;letter-spacing:0.00px;line-height:28.93px;padding-left:3.63px;padding-top:1.9px;box-sizing:border-box;">TEST MIT</div>
<div style="left:947.84px;top:626.28px;line-height:0;"><svg width="11.5" height="13.5" viewBox="0 0 11 13" ><path d="M0.5 0h6v4h4v9h-10z M7.3 0l3.2 3.2h-3.2z" fill="#111"/></svg></div>
<div style="left:973.65px;top:617.54px;width:207.36px;height:28.93px;overflow:hidden;white-space:nowrap;color:#484848;font-size:13.6px;letter-spacing:0.00px;line-height:28.93px;padding-left:3.63px;padding-top:1.9px;box-sizing:border-box;">TEST ARRIVO BARCODE 3</div>
<div style="left:1181.01px;top:617.54px;width:37.97px;height:28.93px;overflow:hidden;white-space:nowrap;color:#484848;font-size:14.4px;letter-spacing:0.00px;line-height:28.93px;padding-left:4.27px;padding-top:1.3px;box-sizing:border-box;">1</div>
<div style="left:1226.45px;top:626.28px;line-height:0;"><svg width="12" height="13" viewBox="0 0 12 13" ><path d="M6 0.5c1.8 0 2.9 1.3 2.9 3 0 1.4-.6 2.6-1.5 3.2v1c2.300.5 3.800 1.300 4.100 2.500v1.800h-11v-1.800c.3-1.200 1.800-2 4.100-2.500v-1c-.9-.6-1.500-1.800-1.500-3.200 0-1.700 1.100-3 2.900-3z" fill="#111"/></svg></div>
<div style="left:1257.81px;top:617.54px;width:74.03px;height:28.93px;overflow:hidden;white-space:nowrap;color:#484848;font-size:13.7px;letter-spacing:0.00px;line-height:28.93px;padding-left:4.27px;padding-top:1.9px;box-sizing:border-box;">0000022-09/02</div>
<div style="left:324.69px;top:646.46px;width:27.09px;height:28.93px;overflow:hidden;white-space:nowrap;color:#484848;font-size:14.4px;letter-spacing:0.00px;line-height:28.93px;padding-left:4.05px;padding-top:1.3px;box-sizing:border-box;">P</div>
<div style="left:378.45px;top:646.46px;width:38.83px;height:28.93px;overflow:hidden;white-space:nowrap;color:#484848;font-size:14.4px;letter-spacing:0.00px;line-height:28.93px;padding-left:3.63px;padding-top:1.3px;box-sizing:border-box;">2023</div>
<div style="left:417.28px;top:646.46px;width:46.93px;height:28.93px;overflow:hidden;white-space:nowrap;color:#484848;font-size:14.4px;letter-spacing:0.00px;line-height:28.93px;padding-left:3.63px;padding-top:1.3px;box-sizing:border-box;">18</div>
<div style="left:464.21px;top:646.46px;width:70.40px;height:28.93px;overflow:hidden;white-space:nowrap;color:#484848;font-size:14.4px;letter-spacing:0.00px;line-height:28.93px;padding-left:3.63px;padding-top:1.3px;box-sizing:border-box;">30/01/2023</div>
<div style="left:534.61px;top:646.46px;width:61.65px;height:28.93px;overflow:hidden;white-space:nowrap;color:#484848;font-size:14.4px;letter-spacing:0.00px;line-height:28.93px;padding-left:3.63px;padding-top:1.3px;box-sizing:border-box;">12:31:11</div>
<div style="left:596.27px;top:646.46px;width:62.19px;height:28.93px;overflow:hidden;white-space:nowrap;color:#484848;font-size:14.4px;letter-spacing:0.00px;line-height:28.93px;padding-left:3.63px;padding-top:1.3px;box-sizing:border-box;">0</div>
<div style="left:658.45px;top:646.46px;width:61.12px;height:28.93px;overflow:hidden;white-space:nowrap;color:#484848;font-size:14.4px;letter-spacing:0.00px;line-height:28.93px;padding-left:3.63px;padding-top:1.3px;box-sizing:border-box;">0</div>
<div style="left:770.77px;top:646.46px;width:167.89px;height:28.93px;overflow:hidden;white-space:nowrap;color:#484848;font-size:13.6px;letter-spacing:0.00px;line-height:28.93px;padding-left:3.63px;padding-top:1.9px;box-sizing:border-box;">TEST</div>
<div style="left:947.84px;top:655.21px;line-height:0;"><svg width="11.5" height="13.5" viewBox="0 0 11 13" ><path d="M0.5 0h6v4h4v9h-10z M7.3 0l3.2 3.2h-3.2z" fill="#111"/></svg></div>
<div style="left:973.65px;top:646.46px;width:207.36px;height:28.93px;overflow:hidden;white-space:nowrap;color:#484848;font-size:13.6px;letter-spacing:0.00px;line-height:28.93px;padding-left:3.63px;padding-top:1.9px;box-sizing:border-box;"><span style="display:inline-block;vertical-align:-1px;margin-right:3px;line-height:0;"><svg width="13" height="10" viewBox="0 0 13 10" ><rect x="0" y="1" width="13" height="8.500" rx="1" fill="#222"/><path d="M1.500 2.500l5 3.500 5-3.500" fill="none" stroke="#fff" stroke-width="1.200"/></svg></span>TEST</div>
<div style="left:1181.01px;top:646.46px;width:37.97px;height:28.93px;overflow:hidden;white-space:nowrap;color:#484848;font-size:14.4px;letter-spacing:0.00px;line-height:28.93px;padding-left:4.27px;padding-top:1.3px;box-sizing:border-box;">1</div>
<div style="left:1226.45px;top:655.21px;line-height:0;"><svg width="12" height="13" viewBox="0 0 12 13" ><path d="M6 0.5c1.8 0 2.9 1.3 2.9 3 0 1.4-.6 2.6-1.5 3.2v1c2.300.5 3.800 1.300 4.100 2.500v1.800h-11v-1.800c.3-1.200 1.800-2 4.100-2.500v-1c-.9-.6-1.500-1.800-1.500-3.200 0-1.700 1.100-3 2.900-3z" fill="#111"/></svg></div>
<div style="left:1257.81px;top:646.46px;width:74.03px;height:28.93px;overflow:hidden;white-space:nowrap;color:#484848;font-size:13.7px;letter-spacing:0.00px;line-height:28.93px;padding-left:4.27px;padding-top:1.9px;box-sizing:border-box;">0000018-30/01</div>
<div style="left:324.69px;top:675.39px;width:27.09px;height:28.93px;overflow:hidden;white-space:nowrap;color:#484848;font-size:14.4px;letter-spacing:0.00px;line-height:28.93px;padding-left:4.05px;padding-top:1.3px;box-sizing:border-box;">P</div>
<div style="left:378.45px;top:675.39px;width:38.83px;height:28.93px;overflow:hidden;white-space:nowrap;color:#484848;font-size:14.4px;letter-spacing:0.00px;line-height:28.93px;padding-left:3.63px;padding-top:1.3px;box-sizing:border-box;">2023</div>
<div style="left:417.28px;top:675.39px;width:46.93px;height:28.93px;overflow:hidden;white-space:nowrap;color:#484848;font-size:14.4px;letter-spacing:0.00px;line-height:28.93px;padding-left:3.63px;padding-top:1.3px;box-sizing:border-box;">17</div>
<div style="left:464.21px;top:675.39px;width:70.40px;height:28.93px;overflow:hidden;white-space:nowrap;color:#484848;font-size:14.4px;letter-spacing:0.00px;line-height:28.93px;padding-left:3.63px;padding-top:1.3px;box-sizing:border-box;">27/01/2023</div>
<div style="left:534.61px;top:675.39px;width:61.65px;height:28.93px;overflow:hidden;white-space:nowrap;color:#484848;font-size:14.4px;letter-spacing:0.00px;line-height:28.93px;padding-left:3.63px;padding-top:1.3px;box-sizing:border-box;">12:40:07</div>
<div style="left:596.27px;top:675.39px;width:62.19px;height:28.93px;overflow:hidden;white-space:nowrap;color:#484848;font-size:14.4px;letter-spacing:0.00px;line-height:28.93px;padding-left:3.63px;padding-top:1.3px;box-sizing:border-box;">0</div>
<div style="left:658.45px;top:675.39px;width:61.12px;height:28.93px;overflow:hidden;white-space:nowrap;color:#484848;font-size:14.4px;letter-spacing:0.00px;line-height:28.93px;padding-left:3.63px;padding-top:1.3px;box-sizing:border-box;">0</div>
<div style="left:770.77px;top:675.39px;width:167.89px;height:28.93px;overflow:hidden;white-space:nowrap;color:#484848;font-size:13.6px;letter-spacing:0.00px;line-height:28.93px;padding-left:3.63px;padding-top:1.9px;box-sizing:border-box;">TEST</div>
<div style="left:947.84px;top:684.14px;line-height:0;"><svg width="11.5" height="13.5" viewBox="0 0 11 13" ><path d="M0.5 0h6v4h4v9h-10z M7.3 0l3.2 3.2h-3.2z" fill="#111"/></svg></div>
<div style="left:973.65px;top:675.39px;width:207.36px;height:28.93px;overflow:hidden;white-space:nowrap;color:#484848;font-size:13.6px;letter-spacing:0.00px;line-height:28.93px;padding-left:3.63px;padding-top:1.9px;box-sizing:border-box;">TEST</div>
<div style="left:1181.01px;top:675.39px;width:37.97px;height:28.93px;overflow:hidden;white-space:nowrap;color:#484848;font-size:14.4px;letter-spacing:0.00px;line-height:28.93px;padding-left:4.27px;padding-top:1.3px;box-sizing:border-box;">1</div>
<div style="left:1226.45px;top:684.14px;line-height:0;"><svg width="12" height="13" viewBox="0 0 12 13" ><path d="M6 0.5c1.8 0 2.9 1.3 2.9 3 0 1.4-.6 2.6-1.5 3.2v1c2.300.5 3.800 1.300 4.100 2.500v1.800h-11v-1.800c.3-1.200 1.800-2 4.100-2.500v-1c-.9-.6-1.500-1.800-1.500-3.200 0-1.700 1.100-3 2.900-3z" fill="#111"/></svg></div>
<div style="left:1257.81px;top:675.39px;width:74.03px;height:28.93px;overflow:hidden;white-space:nowrap;color:#484848;font-size:13.7px;letter-spacing:0.00px;line-height:28.93px;padding-left:4.27px;padding-top:1.9px;box-sizing:border-box;">0000017-27/01</div>
<div style="left:324.69px;top:704.32px;width:27.09px;height:28.93px;overflow:hidden;white-space:nowrap;color:#484848;font-size:14.4px;letter-spacing:0.00px;line-height:28.93px;padding-left:4.05px;padding-top:1.3px;box-sizing:border-box;">P</div>
<div style="left:378.45px;top:704.32px;width:38.83px;height:28.93px;overflow:hidden;white-space:nowrap;color:#484848;font-size:14.4px;letter-spacing:0.00px;line-height:28.93px;padding-left:3.63px;padding-top:1.3px;box-sizing:border-box;">2023</div>
<div style="left:417.28px;top:704.32px;width:46.93px;height:28.93px;overflow:hidden;white-space:nowrap;color:#484848;font-size:14.4px;letter-spacing:0.00px;line-height:28.93px;padding-left:3.63px;padding-top:1.3px;box-sizing:border-box;">16</div>
<div style="left:464.21px;top:704.32px;width:70.40px;height:28.93px;overflow:hidden;white-space:nowrap;color:#484848;font-size:14.4px;letter-spacing:0.00px;line-height:28.93px;padding-left:3.63px;padding-top:1.3px;box-sizing:border-box;">26/01/2023</div>
<div style="left:534.61px;top:704.32px;width:61.65px;height:28.93px;overflow:hidden;white-space:nowrap;color:#484848;font-size:14.4px;letter-spacing:0.00px;line-height:28.93px;padding-left:3.63px;padding-top:1.3px;box-sizing:border-box;">17:38:36</div>
<div style="left:596.27px;top:704.32px;width:62.19px;height:28.93px;overflow:hidden;white-space:nowrap;color:#484848;font-size:14.4px;letter-spacing:0.00px;line-height:28.93px;padding-left:3.63px;padding-top:1.3px;box-sizing:border-box;">0</div>
<div style="left:658.45px;top:704.32px;width:61.12px;height:28.93px;overflow:hidden;white-space:nowrap;color:#484848;font-size:14.4px;letter-spacing:0.00px;line-height:28.93px;padding-left:3.63px;padding-top:1.3px;box-sizing:border-box;">0</div>
<div style="left:770.77px;top:704.32px;width:167.89px;height:28.93px;overflow:hidden;white-space:nowrap;color:#484848;font-size:13.6px;letter-spacing:0.00px;line-height:28.93px;padding-left:3.63px;padding-top:1.9px;box-sizing:border-box;">ITALSOFT</div>
<div style="left:947.84px;top:713.07px;line-height:0;"><svg width="11.5" height="13.5" viewBox="0 0 11 13" ><path d="M0.5 0h6v4h4v9h-10z M7.3 0l3.2 3.2h-3.2z" fill="#111"/></svg></div>
<div style="left:973.65px;top:704.32px;width:207.36px;height:28.93px;overflow:hidden;white-space:nowrap;color:#484848;font-size:13.6px;letter-spacing:0.00px;line-height:28.93px;padding-left:3.63px;padding-top:1.9px;box-sizing:border-box;">PROVA FIRMA ALLEGATO</div>
<div style="left:1181.01px;top:704.32px;width:37.97px;height:28.93px;overflow:hidden;white-space:nowrap;color:#484848;font-size:14.4px;letter-spacing:0.00px;line-height:28.93px;padding-left:4.27px;padding-top:1.3px;box-sizing:border-box;">1</div>
<div style="left:1226.45px;top:713.07px;line-height:0;"><svg width="12" height="13" viewBox="0 0 12 13" ><path d="M6 0.5c1.8 0 2.9 1.3 2.9 3 0 1.4-.6 2.6-1.5 3.2v1c2.300.5 3.800 1.300 4.100 2.500v1.800h-11v-1.800c.3-1.200 1.800-2 4.100-2.500v-1c-.9-.6-1.500-1.800-1.500-3.200 0-1.700 1.100-3 2.900-3z" fill="#111"/></svg></div>
<div style="left:1257.81px;top:704.32px;width:74.03px;height:28.93px;overflow:hidden;white-space:nowrap;color:#484848;font-size:13.7px;letter-spacing:0.00px;line-height:28.93px;padding-left:4.27px;padding-top:1.9px;box-sizing:border-box;">0000016-26/01</div>
<div style="left:324.69px;top:733.25px;width:27.09px;height:28.93px;overflow:hidden;white-space:nowrap;color:#484848;font-size:14.4px;letter-spacing:0.00px;line-height:28.93px;padding-left:4.05px;padding-top:1.3px;box-sizing:border-box;">P</div>
<div style="left:378.45px;top:733.25px;width:38.83px;height:28.93px;overflow:hidden;white-space:nowrap;color:#484848;font-size:14.4px;letter-spacing:0.00px;line-height:28.93px;padding-left:3.63px;padding-top:1.3px;box-sizing:border-box;">2023</div>
<div style="left:417.28px;top:733.25px;width:46.93px;height:28.93px;overflow:hidden;white-space:nowrap;color:#484848;font-size:14.4px;letter-spacing:0.00px;line-height:28.93px;padding-left:3.63px;padding-top:1.3px;box-sizing:border-box;">13</div>
<div style="left:464.21px;top:733.25px;width:70.40px;height:28.93px;overflow:hidden;white-space:nowrap;color:#484848;font-size:14.4px;letter-spacing:0.00px;line-height:28.93px;padding-left:3.63px;padding-top:1.3px;box-sizing:border-box;">26/01/2023</div>
<div style="left:534.61px;top:733.25px;width:61.65px;height:28.93px;overflow:hidden;white-space:nowrap;color:#484848;font-size:14.4px;letter-spacing:0.00px;line-height:28.93px;padding-left:3.63px;padding-top:1.3px;box-sizing:border-box;">15:34:48</div>
<div style="left:596.27px;top:733.25px;width:62.19px;height:28.93px;overflow:hidden;white-space:nowrap;color:#484848;font-size:14.4px;letter-spacing:0.00px;line-height:28.93px;padding-left:3.63px;padding-top:1.3px;box-sizing:border-box;">0</div>
<div style="left:658.45px;top:733.25px;width:61.12px;height:28.93px;overflow:hidden;white-space:nowrap;color:#484848;font-size:14.4px;letter-spacing:0.00px;line-height:28.93px;padding-left:3.63px;padding-top:1.3px;box-sizing:border-box;">0</div>
<div style="left:770.77px;top:733.25px;width:167.89px;height:28.93px;overflow:hidden;white-space:nowrap;color:#484848;font-size:13.6px;letter-spacing:0.00px;line-height:28.93px;padding-left:3.63px;padding-top:1.9px;box-sizing:border-box;">ANGELONI TANIA</div>
<div style="left:947.84px;top:741.99px;line-height:0;"><svg width="11.5" height="13.5" viewBox="0 0 11 13" ><path d="M0.5 0h6v4h4v9h-10z M7.3 0l3.2 3.2h-3.2z" fill="#111"/></svg></div>
<div style="left:973.65px;top:733.25px;width:207.36px;height:28.93px;overflow:hidden;white-space:nowrap;color:#484848;font-size:13.6px;letter-spacing:0.00px;line-height:28.93px;padding-left:3.63px;padding-top:1.9px;box-sizing:border-box;">PROVA OGGETTO PROTOCOLLO</div>
<div style="left:1181.01px;top:733.25px;width:37.97px;height:28.93px;overflow:hidden;white-space:nowrap;color:#484848;font-size:14.4px;letter-spacing:0.00px;line-height:28.93px;padding-left:4.27px;padding-top:1.3px;box-sizing:border-box;">8.4</div>
<div style="left:1226.45px;top:741.99px;line-height:0;"><svg width="12" height="13" viewBox="0 0 12 13" ><path d="M6 0.5c1.8 0 2.9 1.3 2.9 3 0 1.4-.6 2.6-1.5 3.2v1c2.300.5 3.800 1.300 4.100 2.500v1.800h-11v-1.800c.3-1.200 1.800-2 4.100-2.500v-1c-.9-.6-1.500-1.800-1.500-3.200 0-1.700 1.100-3 2.900-3z" fill="#111"/></svg></div>
<div style="left:1257.81px;top:733.25px;width:74.03px;height:28.93px;overflow:hidden;white-space:nowrap;color:#484848;font-size:13.7px;letter-spacing:0.00px;line-height:28.93px;padding-left:4.27px;padding-top:1.9px;box-sizing:border-box;">0000013-26/01</div>
<div style="left:324.69px;top:125.23px;width:1007.15px;height:1.07px;background:#b4cfec;"></div>
<div style="left:324.69px;top:154.15px;width:1007.15px;height:1.07px;background:#d0e1f3;"></div>
<div style="left:324.69px;top:183.08px;width:1007.15px;height:1.07px;background:#d0e1f3;"></div>
<div style="left:324.69px;top:212.01px;width:1007.15px;height:1.07px;background:#d0e1f3;"></div>
<div style="left:324.69px;top:240.94px;width:1007.15px;height:1.07px;background:#d0e1f3;"></div>
<div style="left:324.69px;top:269.87px;width:1007.15px;height:1.07px;background:#d0e1f3;"></div>
<div style="left:324.69px;top:298.79px;width:1007.15px;height:1.07px;background:#d0e1f3;"></div>
<div style="left:324.69px;top:327.72px;width:1007.15px;height:1.07px;background:#d0e1f3;"></div>
<div style="left:324.69px;top:356.65px;width:1007.15px;height:1.07px;background:#d0e1f3;"></div>
<div style="left:324.69px;top:385.58px;width:1007.15px;height:1.07px;background:#d0e1f3;"></div>
<div style="left:324.69px;top:414.51px;width:1007.15px;height:1.07px;background:#d0e1f3;"></div>
<div style="left:324.69px;top:443.43px;width:1007.15px;height:1.07px;background:#d0e1f3;"></div>
<div style="left:324.69px;top:472.36px;width:1007.15px;height:1.07px;background:#d0e1f3;"></div>
<div style="left:324.69px;top:501.29px;width:1007.15px;height:1.07px;background:#d0e1f3;"></div>
<div style="left:324.69px;top:530.22px;width:1007.15px;height:1.07px;background:#d0e1f3;"></div>
<div style="left:324.69px;top:559.15px;width:1007.15px;height:1.07px;background:#d0e1f3;"></div>
<div style="left:324.69px;top:588.07px;width:1007.15px;height:1.07px;background:#d0e1f3;"></div>
<div style="left:324.69px;top:617.00px;width:1007.15px;height:1.07px;background:#d0e1f3;"></div>
<div style="left:324.69px;top:645.93px;width:1007.15px;height:1.07px;background:#d0e1f3;"></div>
<div style="left:324.69px;top:674.86px;width:1007.15px;height:1.07px;background:#d0e1f3;"></div>
<div style="left:324.69px;top:703.79px;width:1007.15px;height:1.07px;background:#d0e1f3;"></div>
<div style="left:324.69px;top:732.71px;width:1007.15px;height:1.07px;background:#d0e1f3;"></div>
<div style="left:324.69px;top:761.64px;width:1007.15px;height:1.07px;background:#d0e1f3;"></div>
<div style="left:324.16px;top:96.43px;width:1.07px;height:665.75px;background:#b4cfec;"></div>
<div style="left:351.25px;top:96.43px;width:1.07px;height:665.75px;background:#b4cfec;"></div>
<div style="left:351.25px;top:212.97px;width:1.07px;height:28.07px;background:#f9d94e;"></div>
<div style="left:364.91px;top:96.43px;width:1.07px;height:665.75px;background:#b4cfec;"></div>
<div style="left:364.91px;top:212.97px;width:1.07px;height:28.07px;background:#f9d94e;"></div>
<div style="left:377.92px;top:96.43px;width:1.07px;height:665.75px;background:#b4cfec;"></div>
<div style="left:377.92px;top:212.97px;width:1.07px;height:28.07px;background:#f9d94e;"></div>
<div style="left:416.75px;top:96.43px;width:1.07px;height:665.75px;background:#b4cfec;"></div>
<div style="left:416.75px;top:212.97px;width:1.07px;height:28.07px;background:#f9d94e;"></div>
<div style="left:463.68px;top:96.43px;width:1.07px;height:665.75px;background:#b4cfec;"></div>
<div style="left:463.68px;top:212.97px;width:1.07px;height:28.07px;background:#f9d94e;"></div>
<div style="left:534.08px;top:96.43px;width:1.07px;height:665.75px;background:#b4cfec;"></div>
<div style="left:534.08px;top:212.97px;width:1.07px;height:28.07px;background:#f9d94e;"></div>
<div style="left:595.73px;top:96.43px;width:1.07px;height:665.75px;background:#b4cfec;"></div>
<div style="left:595.73px;top:212.97px;width:1.07px;height:28.07px;background:#f9d94e;"></div>
<div style="left:657.92px;top:96.43px;width:1.07px;height:665.75px;background:#b4cfec;"></div>
<div style="left:657.92px;top:212.97px;width:1.07px;height:28.07px;background:#f9d94e;"></div>
<div style="left:719.04px;top:96.43px;width:1.07px;height:665.75px;background:#b4cfec;"></div>
<div style="left:719.04px;top:212.97px;width:1.07px;height:28.07px;background:#f9d94e;"></div>
<div style="left:770.24px;top:96.43px;width:1.07px;height:665.75px;background:#b4cfec;"></div>
<div style="left:770.24px;top:212.97px;width:1.07px;height:28.07px;background:#f9d94e;"></div>
<div style="left:938.13px;top:96.43px;width:1.07px;height:665.75px;background:#b4cfec;"></div>
<div style="left:938.13px;top:212.97px;width:1.07px;height:28.07px;background:#f9d94e;"></div>
<div style="left:973.12px;top:96.43px;width:1.07px;height:665.75px;background:#b4cfec;"></div>
<div style="left:973.12px;top:212.97px;width:1.07px;height:28.07px;background:#f9d94e;"></div>
<div style="left:1180.48px;top:96.43px;width:1.07px;height:665.75px;background:#b4cfec;"></div>
<div style="left:1180.48px;top:212.97px;width:1.07px;height:28.07px;background:#f9d94e;"></div>
<div style="left:1218.45px;top:96.43px;width:1.07px;height:665.75px;background:#b4cfec;"></div>
<div style="left:1218.45px;top:212.97px;width:1.07px;height:28.07px;background:#f9d94e;"></div>
<div style="left:1257.28px;top:96.43px;width:1.07px;height:665.75px;background:#b4cfec;"></div>
<div style="left:1257.28px;top:212.97px;width:1.07px;height:28.07px;background:#f9d94e;"></div>
<div style="left:1331.31px;top:96.43px;width:1.07px;height:665.75px;background:#b4cfec;"></div>
<div style="left:324.16px;top:96.43px;width:1.07px;height:673.28px;background:#b4cfec;"></div>
<div style="left:1331.31px;top:96.43px;width:1.07px;height:673.28px;background:#b4cfec;"></div>
<div style="left:324.16px;top:769.71px;width:1008.21px;height:43.09px;background:#d8e6fd;border:1px solid #cbdcf6;border-top:none;box-sizing:border-box;border-radius:0 0 6px 6px;"></div>
<div style="left:331.91px;top:785.25px;line-height:0;"><svg width="15" height="15" viewBox="0 0 14 14" ><path d="M10.500 0.500l3 3-1.800 1.800-3-3z M7.800 3.200l3 3-7 7-3.600.6.600-3.600z" fill="#2f6eaf"/></svg></div>
<div style="left:362.53px;top:784.78px;line-height:0;"><svg width="13.5" height="15.5" viewBox="0 0 13 14" ><path d="M0.500 0h8l4 4v10h-12z" fill="#2f6eaf"/><path d="M3 6h7v1.500h-7z M3 9h7v3h-7z" fill="#fff" opacity=".55"/></svg></div>
<div style="left:390.43px;top:784.78px;line-height:0;"><svg width="17" height="15.5" viewBox="0 0 14 14" ><path d="M3.500 0.300h7v3.200h-7z M0.400 4.300h13.200v6.400h-2.600v-2.700h-8v2.700h-2.600z M3.900 8.900h6.200v4.800h-6.200z" fill="#2f6eaf"/></svg></div>
<div style="left:419.95px;top:784.75px;line-height:0;"><svg width="16" height="16" viewBox="0 0 16 16" ><path d="M8 2.500h-2.500a2 2 0 0 0-2 2v4.500" fill="none" stroke="#2f6eaf" stroke-width="2.600"/><path d="M0 8.200h7l-3.500 4.800z" fill="#2f6eaf"/><path d="M8 13.500h2.500a2 2 0 0 0 2-2v-4.500" fill="none" stroke="#2f6eaf" stroke-width="2.600"/><path d="M16 7.800h-7l3.500-4.800z" fill="#2f6eaf"/></svg></div>
<div style="left:444.37px;top:781.44px;width:1.07px;height:22.83px;background:#c3d3ec;"></div>
<div style="left:454.76px;top:785.00px;line-height:0;"><svg width="15.5" height="15.5" viewBox="0 0 14 14" ><circle cx="7" cy="7" r="4.300" fill="none" stroke="#2f6eaf" stroke-width="3.200" stroke-dasharray="2.250 1.130"/><circle cx="7" cy="7" r="3.700" fill="none" stroke="#2f6eaf" stroke-width="2.200"/></svg></div>
<div style="left:728.73px;top:788.67px;line-height:0;"><svg width="9" height="9" viewBox="0 0 9 9" ><path d="M0 0h2v9h-2z M9 0v9l-6-4.500z" fill="#9db9de"/></svg></div>
<div style="left:752.47px;top:788.67px;line-height:0;"><svg width="11" height="9" viewBox="0 0 11 9" ><path d="M5.500 0v9l-5.500-4.500z M11 0v9l-5.500-4.500z" fill="#9db9de"/></svg></div>
<div style="left:770.56px;top:781.44px;width:1.07px;height:22.83px;background:#c3d3ec;"></div>
<div style="left:774.19px;top:782.08px;color:#2f6eaf;font-size:14.200px;line-height:21.33px;white-space:nowrap;">Pagina</div>
<div style="left:821.97px;top:781.23px;width:33.92px;height:21.97px;background:#fff;border:1px solid #b5b5b5;border-radius:4px;box-sizing:border-box;color:#333;font-size:10.500px;line-height:21.33px;padding-left:3px;">1</div>
<div style="left:859.52px;top:782.08px;color:#2f6eaf;font-size:14.200px;line-height:21.33px;white-space:nowrap;">di 2</div>
<div style="left:885.97px;top:781.44px;width:1.07px;height:22.83px;background:#c3d3ec;"></div>
<div style="left:893.91px;top:788.67px;line-height:0;"><svg width="11" height="9" viewBox="0 0 11 9" ><path d="M0 0v9l5.500-4.500z M5.500 0v9l5.500-4.500z" fill="#2f6eaf"/></svg></div>
<div style="left:919.02px;top:788.67px;line-height:0;"><svg width="9" height="9" viewBox="0 0 9 9" ><path d="M7 0h2v9h-2z M0 0v9l6-4.500z" fill="#2f6eaf"/></svg></div>
<div style="left:1113.81px;top:782.08px;width:213.33px;text-align:right;color:#2f6eaf;font-size:14px;line-height:21.33px;white-space:nowrap;">Visualizzati 1 - 22 di 25</div>
<div style="left:1564.37px;top:850.77px;color:rgba(110,110,110,.31);font-size:20.2px;white-space:nowrap;line-height:1;">Attiva Windows</div>
<div style="left:1564.37px;top:876.80px;color:rgba(110,110,110,.28);font-size:14.9px;white-space:nowrap;line-height:1;">Passa a Impostazioni per attivare Windows.</div>
</div>
</body></html>
